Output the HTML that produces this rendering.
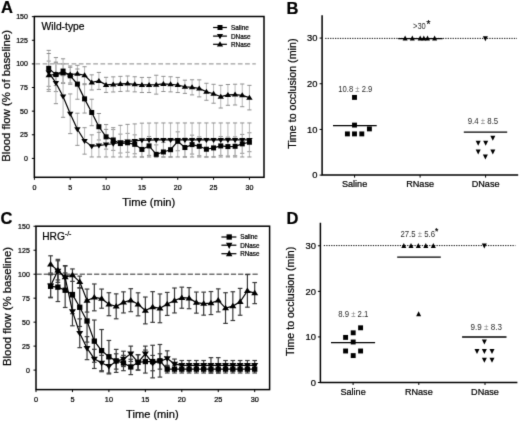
<!DOCTYPE html>
<html><head><meta charset="utf-8"><style>
html,body{margin:0;padding:0;background:#fff;width:520px;height:422px;overflow:hidden}
svg{display:block;will-change:transform}
text{font-family:"Liberation Sans", sans-serif;stroke:#000;stroke-width:0.22px}
</style></head><body>
<svg width="520" height="422" viewBox="0 0 520 422">
<defs><filter id="bl" x="0" y="0" width="1" height="1" color-interpolation-filters="sRGB"><feConvolveMatrix order="3" kernelMatrix="0.0114 0.0841 0.0114 0.0841 0.618 0.0841 0.0114 0.0841 0.0114" edgeMode="duplicate"/></filter></defs>
<rect width="520" height="422" fill="#fff"/>
<g filter="url(#bl)"><rect width="520" height="422" fill="#fff"/>
<line x1="35.4" y1="63.9" x2="255.8" y2="63.9" stroke="#a0a0a0" stroke-width="1.3" stroke-dasharray="4.7 2.53"/>
<line x1="48.73" y1="61.07" x2="48.73" y2="89.42" stroke="#b4b4b4" stroke-width="0.95" />
<line x1="46.63" y1="61.07" x2="50.83" y2="61.07" stroke="#888" stroke-width="0.95" />
<line x1="46.63" y1="89.42" x2="50.83" y2="89.42" stroke="#888" stroke-width="0.95" />
<line x1="55.9" y1="62.96" x2="55.9" y2="85.64" stroke="#b4b4b4" stroke-width="0.95" />
<line x1="53.8" y1="62.96" x2="58" y2="62.96" stroke="#888" stroke-width="0.95" />
<line x1="53.8" y1="85.64" x2="58" y2="85.64" stroke="#888" stroke-width="0.95" />
<line x1="63.07" y1="63.9" x2="63.07" y2="82.8" stroke="#b4b4b4" stroke-width="0.95" />
<line x1="60.97" y1="63.9" x2="65.17" y2="63.9" stroke="#888" stroke-width="0.95" />
<line x1="60.97" y1="82.8" x2="65.17" y2="82.8" stroke="#888" stroke-width="0.95" />
<line x1="70.23" y1="65.98" x2="70.23" y2="82.99" stroke="#b4b4b4" stroke-width="0.95" />
<line x1="68.14" y1="65.98" x2="72.33" y2="65.98" stroke="#888" stroke-width="0.95" />
<line x1="68.14" y1="82.99" x2="72.33" y2="82.99" stroke="#888" stroke-width="0.95" />
<line x1="77.4" y1="65.32" x2="77.4" y2="82.33" stroke="#b4b4b4" stroke-width="0.95" />
<line x1="75.3" y1="65.32" x2="79.5" y2="65.32" stroke="#888" stroke-width="0.95" />
<line x1="75.3" y1="82.33" x2="79.5" y2="82.33" stroke="#888" stroke-width="0.95" />
<line x1="84.57" y1="66.74" x2="84.57" y2="83.75" stroke="#b4b4b4" stroke-width="0.95" />
<line x1="82.47" y1="66.74" x2="86.67" y2="66.74" stroke="#888" stroke-width="0.95" />
<line x1="82.47" y1="83.75" x2="86.67" y2="83.75" stroke="#888" stroke-width="0.95" />
<line x1="91.74" y1="74.86" x2="91.74" y2="89.98" stroke="#b4b4b4" stroke-width="0.95" />
<line x1="89.64" y1="74.86" x2="93.84" y2="74.86" stroke="#888" stroke-width="0.95" />
<line x1="89.64" y1="89.98" x2="93.84" y2="89.98" stroke="#888" stroke-width="0.95" />
<line x1="98.9" y1="72.41" x2="98.9" y2="89.42" stroke="#b4b4b4" stroke-width="0.95" />
<line x1="96.8" y1="72.41" x2="101" y2="72.41" stroke="#888" stroke-width="0.95" />
<line x1="96.8" y1="89.42" x2="101" y2="89.42" stroke="#888" stroke-width="0.95" />
<line x1="106.07" y1="77.32" x2="106.07" y2="92.44" stroke="#b4b4b4" stroke-width="0.95" />
<line x1="103.97" y1="77.32" x2="108.17" y2="77.32" stroke="#888" stroke-width="0.95" />
<line x1="103.97" y1="92.44" x2="108.17" y2="92.44" stroke="#888" stroke-width="0.95" />
<line x1="113.24" y1="76.85" x2="113.24" y2="91.97" stroke="#b4b4b4" stroke-width="0.95" />
<line x1="111.14" y1="76.85" x2="115.34" y2="76.85" stroke="#888" stroke-width="0.95" />
<line x1="111.14" y1="91.97" x2="115.34" y2="91.97" stroke="#888" stroke-width="0.95" />
<line x1="120.4" y1="76.37" x2="120.4" y2="91.49" stroke="#b4b4b4" stroke-width="0.95" />
<line x1="118.3" y1="76.37" x2="122.5" y2="76.37" stroke="#888" stroke-width="0.95" />
<line x1="118.3" y1="91.49" x2="122.5" y2="91.49" stroke="#888" stroke-width="0.95" />
<line x1="127.57" y1="76" x2="127.57" y2="91.12" stroke="#b4b4b4" stroke-width="0.95" />
<line x1="125.47" y1="76" x2="129.67" y2="76" stroke="#888" stroke-width="0.95" />
<line x1="125.47" y1="91.12" x2="129.67" y2="91.12" stroke="#888" stroke-width="0.95" />
<line x1="134.74" y1="76.75" x2="134.74" y2="91.87" stroke="#b4b4b4" stroke-width="0.95" />
<line x1="132.64" y1="76.75" x2="136.84" y2="76.75" stroke="#888" stroke-width="0.95" />
<line x1="132.64" y1="91.87" x2="136.84" y2="91.87" stroke="#888" stroke-width="0.95" />
<line x1="141.91" y1="77.41" x2="141.91" y2="92.53" stroke="#b4b4b4" stroke-width="0.95" />
<line x1="139.81" y1="77.41" x2="144" y2="77.41" stroke="#888" stroke-width="0.95" />
<line x1="139.81" y1="92.53" x2="144" y2="92.53" stroke="#888" stroke-width="0.95" />
<line x1="149.07" y1="77.41" x2="149.07" y2="92.53" stroke="#b4b4b4" stroke-width="0.95" />
<line x1="146.97" y1="77.41" x2="151.17" y2="77.41" stroke="#888" stroke-width="0.95" />
<line x1="146.97" y1="92.53" x2="151.17" y2="92.53" stroke="#888" stroke-width="0.95" />
<line x1="156.24" y1="75.24" x2="156.24" y2="94.14" stroke="#b4b4b4" stroke-width="0.95" />
<line x1="154.14" y1="75.24" x2="158.34" y2="75.24" stroke="#888" stroke-width="0.95" />
<line x1="154.14" y1="94.14" x2="158.34" y2="94.14" stroke="#888" stroke-width="0.95" />
<line x1="163.41" y1="76.37" x2="163.41" y2="91.49" stroke="#b4b4b4" stroke-width="0.95" />
<line x1="161.31" y1="76.37" x2="165.51" y2="76.37" stroke="#888" stroke-width="0.95" />
<line x1="161.31" y1="91.49" x2="165.51" y2="91.49" stroke="#888" stroke-width="0.95" />
<line x1="170.57" y1="76.75" x2="170.57" y2="91.87" stroke="#b4b4b4" stroke-width="0.95" />
<line x1="168.47" y1="76.75" x2="172.67" y2="76.75" stroke="#888" stroke-width="0.95" />
<line x1="168.47" y1="91.87" x2="172.67" y2="91.87" stroke="#888" stroke-width="0.95" />
<line x1="177.74" y1="77.41" x2="177.74" y2="92.53" stroke="#b4b4b4" stroke-width="0.95" />
<line x1="175.64" y1="77.41" x2="179.84" y2="77.41" stroke="#888" stroke-width="0.95" />
<line x1="175.64" y1="92.53" x2="179.84" y2="92.53" stroke="#888" stroke-width="0.95" />
<line x1="184.91" y1="80.15" x2="184.91" y2="93.38" stroke="#b4b4b4" stroke-width="0.95" />
<line x1="182.81" y1="80.15" x2="187.01" y2="80.15" stroke="#888" stroke-width="0.95" />
<line x1="182.81" y1="93.38" x2="187.01" y2="93.38" stroke="#888" stroke-width="0.95" />
<line x1="192.07" y1="79.78" x2="192.07" y2="94.9" stroke="#b4b4b4" stroke-width="0.95" />
<line x1="189.97" y1="79.78" x2="194.17" y2="79.78" stroke="#888" stroke-width="0.95" />
<line x1="189.97" y1="94.9" x2="194.17" y2="94.9" stroke="#888" stroke-width="0.95" />
<line x1="199.24" y1="79.87" x2="199.24" y2="96.88" stroke="#b4b4b4" stroke-width="0.95" />
<line x1="197.14" y1="79.87" x2="201.34" y2="79.87" stroke="#888" stroke-width="0.95" />
<line x1="197.14" y1="96.88" x2="201.34" y2="96.88" stroke="#888" stroke-width="0.95" />
<line x1="206.41" y1="83.27" x2="206.41" y2="100.28" stroke="#b4b4b4" stroke-width="0.95" />
<line x1="204.31" y1="83.27" x2="208.51" y2="83.27" stroke="#888" stroke-width="0.95" />
<line x1="204.31" y1="100.28" x2="208.51" y2="100.28" stroke="#888" stroke-width="0.95" />
<line x1="213.57" y1="84.31" x2="213.57" y2="103.21" stroke="#b4b4b4" stroke-width="0.95" />
<line x1="211.47" y1="84.31" x2="215.67" y2="84.31" stroke="#888" stroke-width="0.95" />
<line x1="211.47" y1="103.21" x2="215.67" y2="103.21" stroke="#888" stroke-width="0.95" />
<line x1="220.74" y1="85.35" x2="220.74" y2="108.03" stroke="#b4b4b4" stroke-width="0.95" />
<line x1="218.64" y1="85.35" x2="222.84" y2="85.35" stroke="#888" stroke-width="0.95" />
<line x1="218.64" y1="108.03" x2="222.84" y2="108.03" stroke="#888" stroke-width="0.95" />
<line x1="227.91" y1="84.5" x2="227.91" y2="105.29" stroke="#b4b4b4" stroke-width="0.95" />
<line x1="225.81" y1="84.5" x2="230.01" y2="84.5" stroke="#888" stroke-width="0.95" />
<line x1="225.81" y1="105.29" x2="230.01" y2="105.29" stroke="#888" stroke-width="0.95" />
<line x1="235.08" y1="84.22" x2="235.08" y2="105.01" stroke="#b4b4b4" stroke-width="0.95" />
<line x1="232.98" y1="84.22" x2="237.18" y2="84.22" stroke="#888" stroke-width="0.95" />
<line x1="232.98" y1="105.01" x2="237.18" y2="105.01" stroke="#888" stroke-width="0.95" />
<line x1="242.24" y1="84.03" x2="242.24" y2="106.71" stroke="#b4b4b4" stroke-width="0.95" />
<line x1="240.14" y1="84.03" x2="244.34" y2="84.03" stroke="#888" stroke-width="0.95" />
<line x1="240.14" y1="106.71" x2="244.34" y2="106.71" stroke="#888" stroke-width="0.95" />
<line x1="249.41" y1="85.35" x2="249.41" y2="109.92" stroke="#b4b4b4" stroke-width="0.95" />
<line x1="247.31" y1="85.35" x2="251.51" y2="85.35" stroke="#888" stroke-width="0.95" />
<line x1="247.31" y1="109.92" x2="251.51" y2="109.92" stroke="#888" stroke-width="0.95" />
<line x1="48.73" y1="50.39" x2="48.73" y2="86.3" stroke="#b4b4b4" stroke-width="0.95" />
<line x1="46.63" y1="50.39" x2="50.83" y2="50.39" stroke="#888" stroke-width="0.95" />
<line x1="46.63" y1="86.3" x2="50.83" y2="86.3" stroke="#888" stroke-width="0.95" />
<line x1="55.9" y1="57.57" x2="55.9" y2="91.59" stroke="#b4b4b4" stroke-width="0.95" />
<line x1="53.8" y1="57.57" x2="58" y2="57.57" stroke="#888" stroke-width="0.95" />
<line x1="53.8" y1="91.59" x2="58" y2="91.59" stroke="#888" stroke-width="0.95" />
<line x1="63.07" y1="58.8" x2="63.07" y2="83.37" stroke="#b4b4b4" stroke-width="0.95" />
<line x1="60.97" y1="58.8" x2="65.17" y2="58.8" stroke="#888" stroke-width="0.95" />
<line x1="60.97" y1="83.37" x2="65.17" y2="83.37" stroke="#888" stroke-width="0.95" />
<line x1="70.23" y1="67.3" x2="70.23" y2="84.31" stroke="#b4b4b4" stroke-width="0.95" />
<line x1="68.14" y1="67.3" x2="72.33" y2="67.3" stroke="#888" stroke-width="0.95" />
<line x1="68.14" y1="84.31" x2="72.33" y2="84.31" stroke="#888" stroke-width="0.95" />
<line x1="77.4" y1="69" x2="77.4" y2="99.24" stroke="#b4b4b4" stroke-width="0.95" />
<line x1="75.3" y1="69" x2="79.5" y2="69" stroke="#888" stroke-width="0.95" />
<line x1="75.3" y1="99.24" x2="79.5" y2="99.24" stroke="#888" stroke-width="0.95" />
<line x1="84.57" y1="84.69" x2="84.57" y2="113.04" stroke="#b4b4b4" stroke-width="0.95" />
<line x1="82.47" y1="84.69" x2="86.67" y2="84.69" stroke="#888" stroke-width="0.95" />
<line x1="82.47" y1="113.04" x2="86.67" y2="113.04" stroke="#888" stroke-width="0.95" />
<line x1="91.74" y1="99.24" x2="91.74" y2="125.7" stroke="#b4b4b4" stroke-width="0.95" />
<line x1="89.64" y1="99.24" x2="93.84" y2="99.24" stroke="#888" stroke-width="0.95" />
<line x1="89.64" y1="125.7" x2="93.84" y2="125.7" stroke="#888" stroke-width="0.95" />
<line x1="98.9" y1="113.51" x2="98.9" y2="139.97" stroke="#b4b4b4" stroke-width="0.95" />
<line x1="96.8" y1="113.51" x2="101" y2="113.51" stroke="#888" stroke-width="0.95" />
<line x1="96.8" y1="139.97" x2="101" y2="139.97" stroke="#888" stroke-width="0.95" />
<line x1="106.07" y1="124.57" x2="106.07" y2="149.14" stroke="#b4b4b4" stroke-width="0.95" />
<line x1="103.97" y1="124.57" x2="108.17" y2="124.57" stroke="#888" stroke-width="0.95" />
<line x1="103.97" y1="149.14" x2="108.17" y2="149.14" stroke="#888" stroke-width="0.95" />
<line x1="113.24" y1="129.58" x2="113.24" y2="150.37" stroke="#b4b4b4" stroke-width="0.95" />
<line x1="111.14" y1="129.58" x2="115.34" y2="129.58" stroke="#888" stroke-width="0.95" />
<line x1="111.14" y1="150.37" x2="115.34" y2="150.37" stroke="#888" stroke-width="0.95" />
<line x1="120.4" y1="134.11" x2="120.4" y2="153.01" stroke="#b4b4b4" stroke-width="0.95" />
<line x1="118.3" y1="134.11" x2="122.5" y2="134.11" stroke="#888" stroke-width="0.95" />
<line x1="118.3" y1="153.01" x2="122.5" y2="153.01" stroke="#888" stroke-width="0.95" />
<line x1="127.57" y1="133.36" x2="127.57" y2="152.26" stroke="#b4b4b4" stroke-width="0.95" />
<line x1="125.47" y1="133.36" x2="129.67" y2="133.36" stroke="#888" stroke-width="0.95" />
<line x1="125.47" y1="152.26" x2="129.67" y2="152.26" stroke="#888" stroke-width="0.95" />
<line x1="134.74" y1="134.87" x2="134.74" y2="153.77" stroke="#b4b4b4" stroke-width="0.95" />
<line x1="132.64" y1="134.87" x2="136.84" y2="134.87" stroke="#888" stroke-width="0.95" />
<line x1="132.64" y1="153.77" x2="136.84" y2="153.77" stroke="#888" stroke-width="0.95" />
<line x1="141.91" y1="139.97" x2="141.91" y2="156.98" stroke="#b4b4b4" stroke-width="0.95" />
<line x1="139.81" y1="139.97" x2="144" y2="139.97" stroke="#888" stroke-width="0.95" />
<line x1="139.81" y1="156.98" x2="144" y2="156.98" stroke="#888" stroke-width="0.95" />
<line x1="149.07" y1="136.48" x2="149.07" y2="155.38" stroke="#b4b4b4" stroke-width="0.95" />
<line x1="146.97" y1="136.48" x2="151.17" y2="136.48" stroke="#888" stroke-width="0.95" />
<line x1="146.97" y1="155.38" x2="151.17" y2="155.38" stroke="#888" stroke-width="0.95" />
<line x1="156.24" y1="144.89" x2="156.24" y2="156.98" stroke="#b4b4b4" stroke-width="0.95" />
<line x1="154.14" y1="144.89" x2="158.34" y2="144.89" stroke="#888" stroke-width="0.95" />
<line x1="154.14" y1="156.98" x2="158.34" y2="156.98" stroke="#888" stroke-width="0.95" />
<line x1="163.41" y1="142.52" x2="163.41" y2="156.98" stroke="#b4b4b4" stroke-width="0.95" />
<line x1="161.31" y1="142.52" x2="165.51" y2="142.52" stroke="#888" stroke-width="0.95" />
<line x1="161.31" y1="156.98" x2="165.51" y2="156.98" stroke="#888" stroke-width="0.95" />
<line x1="170.57" y1="140.26" x2="170.57" y2="156.98" stroke="#b4b4b4" stroke-width="0.95" />
<line x1="168.47" y1="140.26" x2="172.67" y2="140.26" stroke="#888" stroke-width="0.95" />
<line x1="168.47" y1="156.98" x2="172.67" y2="156.98" stroke="#888" stroke-width="0.95" />
<line x1="177.74" y1="131.85" x2="177.74" y2="150.75" stroke="#b4b4b4" stroke-width="0.95" />
<line x1="175.64" y1="131.85" x2="179.84" y2="131.85" stroke="#888" stroke-width="0.95" />
<line x1="175.64" y1="150.75" x2="179.84" y2="150.75" stroke="#888" stroke-width="0.95" />
<line x1="184.91" y1="138.08" x2="184.91" y2="156.98" stroke="#b4b4b4" stroke-width="0.95" />
<line x1="182.81" y1="138.08" x2="187.01" y2="138.08" stroke="#888" stroke-width="0.95" />
<line x1="182.81" y1="156.98" x2="187.01" y2="156.98" stroke="#888" stroke-width="0.95" />
<line x1="192.07" y1="135.15" x2="192.07" y2="154.05" stroke="#b4b4b4" stroke-width="0.95" />
<line x1="189.97" y1="135.15" x2="194.17" y2="135.15" stroke="#888" stroke-width="0.95" />
<line x1="189.97" y1="154.05" x2="194.17" y2="154.05" stroke="#888" stroke-width="0.95" />
<line x1="199.24" y1="136.85" x2="199.24" y2="155.75" stroke="#b4b4b4" stroke-width="0.95" />
<line x1="197.14" y1="136.85" x2="201.34" y2="136.85" stroke="#888" stroke-width="0.95" />
<line x1="197.14" y1="155.75" x2="201.34" y2="155.75" stroke="#888" stroke-width="0.95" />
<line x1="206.41" y1="139.78" x2="206.41" y2="156.98" stroke="#b4b4b4" stroke-width="0.95" />
<line x1="204.31" y1="139.78" x2="208.51" y2="139.78" stroke="#888" stroke-width="0.95" />
<line x1="204.31" y1="156.98" x2="208.51" y2="156.98" stroke="#888" stroke-width="0.95" />
<line x1="213.57" y1="138.46" x2="213.57" y2="156.98" stroke="#b4b4b4" stroke-width="0.95" />
<line x1="211.47" y1="138.46" x2="215.67" y2="138.46" stroke="#888" stroke-width="0.95" />
<line x1="211.47" y1="156.98" x2="215.67" y2="156.98" stroke="#888" stroke-width="0.95" />
<line x1="220.74" y1="136.48" x2="220.74" y2="155.38" stroke="#b4b4b4" stroke-width="0.95" />
<line x1="218.64" y1="136.48" x2="222.84" y2="136.48" stroke="#888" stroke-width="0.95" />
<line x1="218.64" y1="155.38" x2="222.84" y2="155.38" stroke="#888" stroke-width="0.95" />
<line x1="227.91" y1="137.14" x2="227.91" y2="156.04" stroke="#b4b4b4" stroke-width="0.95" />
<line x1="225.81" y1="137.14" x2="230.01" y2="137.14" stroke="#888" stroke-width="0.95" />
<line x1="225.81" y1="156.04" x2="230.01" y2="156.04" stroke="#888" stroke-width="0.95" />
<line x1="235.08" y1="136.85" x2="235.08" y2="155.75" stroke="#b4b4b4" stroke-width="0.95" />
<line x1="232.98" y1="136.85" x2="237.18" y2="136.85" stroke="#888" stroke-width="0.95" />
<line x1="232.98" y1="155.75" x2="237.18" y2="155.75" stroke="#888" stroke-width="0.95" />
<line x1="242.24" y1="134.4" x2="242.24" y2="153.3" stroke="#b4b4b4" stroke-width="0.95" />
<line x1="240.14" y1="134.4" x2="244.34" y2="134.4" stroke="#888" stroke-width="0.95" />
<line x1="240.14" y1="153.3" x2="244.34" y2="153.3" stroke="#888" stroke-width="0.95" />
<line x1="249.41" y1="132.79" x2="249.41" y2="151.69" stroke="#b4b4b4" stroke-width="0.95" />
<line x1="247.31" y1="132.79" x2="251.51" y2="132.79" stroke="#888" stroke-width="0.95" />
<line x1="247.31" y1="151.69" x2="251.51" y2="151.69" stroke="#888" stroke-width="0.95" />
<line x1="48.73" y1="53.51" x2="48.73" y2="91.31" stroke="#b4b4b4" stroke-width="0.95" />
<line x1="46.63" y1="53.51" x2="50.83" y2="53.51" stroke="#888" stroke-width="0.95" />
<line x1="46.63" y1="91.31" x2="50.83" y2="91.31" stroke="#888" stroke-width="0.95" />
<line x1="55.9" y1="62.1" x2="55.9" y2="103.68" stroke="#b4b4b4" stroke-width="0.95" />
<line x1="53.8" y1="62.1" x2="58" y2="62.1" stroke="#888" stroke-width="0.95" />
<line x1="53.8" y1="103.68" x2="58" y2="103.68" stroke="#888" stroke-width="0.95" />
<line x1="63.07" y1="75.71" x2="63.07" y2="117.29" stroke="#b4b4b4" stroke-width="0.95" />
<line x1="60.97" y1="75.71" x2="65.17" y2="75.71" stroke="#888" stroke-width="0.95" />
<line x1="60.97" y1="117.29" x2="65.17" y2="117.29" stroke="#888" stroke-width="0.95" />
<line x1="70.23" y1="93.95" x2="70.23" y2="133.64" stroke="#b4b4b4" stroke-width="0.95" />
<line x1="68.14" y1="93.95" x2="72.33" y2="93.95" stroke="#888" stroke-width="0.95" />
<line x1="68.14" y1="133.64" x2="72.33" y2="133.64" stroke="#888" stroke-width="0.95" />
<line x1="77.4" y1="113.23" x2="77.4" y2="145.36" stroke="#b4b4b4" stroke-width="0.95" />
<line x1="75.3" y1="113.23" x2="79.5" y2="113.23" stroke="#888" stroke-width="0.95" />
<line x1="75.3" y1="145.36" x2="79.5" y2="145.36" stroke="#888" stroke-width="0.95" />
<line x1="84.57" y1="127.69" x2="84.57" y2="154.15" stroke="#b4b4b4" stroke-width="0.95" />
<line x1="82.47" y1="127.69" x2="86.67" y2="127.69" stroke="#888" stroke-width="0.95" />
<line x1="82.47" y1="154.15" x2="86.67" y2="154.15" stroke="#888" stroke-width="0.95" />
<line x1="91.74" y1="134.87" x2="91.74" y2="156.98" stroke="#b4b4b4" stroke-width="0.95" />
<line x1="89.64" y1="134.87" x2="93.84" y2="134.87" stroke="#888" stroke-width="0.95" />
<line x1="89.64" y1="156.98" x2="93.84" y2="156.98" stroke="#888" stroke-width="0.95" />
<line x1="98.9" y1="132.32" x2="98.9" y2="156.98" stroke="#b4b4b4" stroke-width="0.95" />
<line x1="96.8" y1="132.32" x2="101" y2="132.32" stroke="#888" stroke-width="0.95" />
<line x1="96.8" y1="156.98" x2="101" y2="156.98" stroke="#888" stroke-width="0.95" />
<line x1="106.07" y1="129.39" x2="106.07" y2="156.98" stroke="#b4b4b4" stroke-width="0.95" />
<line x1="103.97" y1="129.39" x2="108.17" y2="129.39" stroke="#888" stroke-width="0.95" />
<line x1="103.97" y1="156.98" x2="108.17" y2="156.98" stroke="#888" stroke-width="0.95" />
<line x1="113.24" y1="127.69" x2="113.24" y2="156.98" stroke="#b4b4b4" stroke-width="0.95" />
<line x1="111.14" y1="127.69" x2="115.34" y2="127.69" stroke="#888" stroke-width="0.95" />
<line x1="111.14" y1="156.98" x2="115.34" y2="156.98" stroke="#888" stroke-width="0.95" />
<line x1="120.4" y1="125.33" x2="120.4" y2="156.98" stroke="#b4b4b4" stroke-width="0.95" />
<line x1="118.3" y1="125.33" x2="122.5" y2="125.33" stroke="#888" stroke-width="0.95" />
<line x1="118.3" y1="156.98" x2="122.5" y2="156.98" stroke="#888" stroke-width="0.95" />
<line x1="127.57" y1="124.38" x2="127.57" y2="156.98" stroke="#b4b4b4" stroke-width="0.95" />
<line x1="125.47" y1="124.38" x2="129.67" y2="124.38" stroke="#888" stroke-width="0.95" />
<line x1="125.47" y1="156.98" x2="129.67" y2="156.98" stroke="#888" stroke-width="0.95" />
<line x1="134.74" y1="123.91" x2="134.74" y2="156.98" stroke="#b4b4b4" stroke-width="0.95" />
<line x1="132.64" y1="123.91" x2="136.84" y2="123.91" stroke="#888" stroke-width="0.95" />
<line x1="132.64" y1="156.98" x2="136.84" y2="156.98" stroke="#888" stroke-width="0.95" />
<line x1="141.91" y1="123.15" x2="141.91" y2="156.98" stroke="#b4b4b4" stroke-width="0.95" />
<line x1="139.81" y1="123.15" x2="144" y2="123.15" stroke="#888" stroke-width="0.95" />
<line x1="139.81" y1="156.98" x2="144" y2="156.98" stroke="#888" stroke-width="0.95" />
<line x1="149.07" y1="123.06" x2="149.07" y2="156.98" stroke="#b4b4b4" stroke-width="0.95" />
<line x1="146.97" y1="123.06" x2="151.17" y2="123.06" stroke="#888" stroke-width="0.95" />
<line x1="146.97" y1="156.98" x2="151.17" y2="156.98" stroke="#888" stroke-width="0.95" />
<line x1="156.24" y1="122.96" x2="156.24" y2="156.98" stroke="#b4b4b4" stroke-width="0.95" />
<line x1="154.14" y1="122.96" x2="158.34" y2="122.96" stroke="#888" stroke-width="0.95" />
<line x1="154.14" y1="156.98" x2="158.34" y2="156.98" stroke="#888" stroke-width="0.95" />
<line x1="163.41" y1="122.96" x2="163.41" y2="156.98" stroke="#b4b4b4" stroke-width="0.95" />
<line x1="161.31" y1="122.96" x2="165.51" y2="122.96" stroke="#888" stroke-width="0.95" />
<line x1="161.31" y1="156.98" x2="165.51" y2="156.98" stroke="#888" stroke-width="0.95" />
<line x1="170.57" y1="122.96" x2="170.57" y2="156.98" stroke="#b4b4b4" stroke-width="0.95" />
<line x1="168.47" y1="122.96" x2="172.67" y2="122.96" stroke="#888" stroke-width="0.95" />
<line x1="168.47" y1="156.98" x2="172.67" y2="156.98" stroke="#888" stroke-width="0.95" />
<line x1="177.74" y1="122.96" x2="177.74" y2="156.98" stroke="#b4b4b4" stroke-width="0.95" />
<line x1="175.64" y1="122.96" x2="179.84" y2="122.96" stroke="#888" stroke-width="0.95" />
<line x1="175.64" y1="156.98" x2="179.84" y2="156.98" stroke="#888" stroke-width="0.95" />
<line x1="184.91" y1="122.96" x2="184.91" y2="156.98" stroke="#b4b4b4" stroke-width="0.95" />
<line x1="182.81" y1="122.96" x2="187.01" y2="122.96" stroke="#888" stroke-width="0.95" />
<line x1="182.81" y1="156.98" x2="187.01" y2="156.98" stroke="#888" stroke-width="0.95" />
<line x1="192.07" y1="122.96" x2="192.07" y2="156.98" stroke="#b4b4b4" stroke-width="0.95" />
<line x1="189.97" y1="122.96" x2="194.17" y2="122.96" stroke="#888" stroke-width="0.95" />
<line x1="189.97" y1="156.98" x2="194.17" y2="156.98" stroke="#888" stroke-width="0.95" />
<line x1="199.24" y1="122.96" x2="199.24" y2="156.98" stroke="#b4b4b4" stroke-width="0.95" />
<line x1="197.14" y1="122.96" x2="201.34" y2="122.96" stroke="#888" stroke-width="0.95" />
<line x1="197.14" y1="156.98" x2="201.34" y2="156.98" stroke="#888" stroke-width="0.95" />
<line x1="206.41" y1="122.96" x2="206.41" y2="156.98" stroke="#b4b4b4" stroke-width="0.95" />
<line x1="204.31" y1="122.96" x2="208.51" y2="122.96" stroke="#888" stroke-width="0.95" />
<line x1="204.31" y1="156.98" x2="208.51" y2="156.98" stroke="#888" stroke-width="0.95" />
<line x1="213.57" y1="122.96" x2="213.57" y2="156.98" stroke="#b4b4b4" stroke-width="0.95" />
<line x1="211.47" y1="122.96" x2="215.67" y2="122.96" stroke="#888" stroke-width="0.95" />
<line x1="211.47" y1="156.98" x2="215.67" y2="156.98" stroke="#888" stroke-width="0.95" />
<line x1="220.74" y1="122.96" x2="220.74" y2="156.98" stroke="#b4b4b4" stroke-width="0.95" />
<line x1="218.64" y1="122.96" x2="222.84" y2="122.96" stroke="#888" stroke-width="0.95" />
<line x1="218.64" y1="156.98" x2="222.84" y2="156.98" stroke="#888" stroke-width="0.95" />
<line x1="227.91" y1="122.96" x2="227.91" y2="156.98" stroke="#b4b4b4" stroke-width="0.95" />
<line x1="225.81" y1="122.96" x2="230.01" y2="122.96" stroke="#888" stroke-width="0.95" />
<line x1="225.81" y1="156.98" x2="230.01" y2="156.98" stroke="#888" stroke-width="0.95" />
<line x1="235.08" y1="122.96" x2="235.08" y2="156.98" stroke="#b4b4b4" stroke-width="0.95" />
<line x1="232.98" y1="122.96" x2="237.18" y2="122.96" stroke="#888" stroke-width="0.95" />
<line x1="232.98" y1="156.98" x2="237.18" y2="156.98" stroke="#888" stroke-width="0.95" />
<line x1="242.24" y1="122.96" x2="242.24" y2="156.98" stroke="#b4b4b4" stroke-width="0.95" />
<line x1="240.14" y1="122.96" x2="244.34" y2="122.96" stroke="#888" stroke-width="0.95" />
<line x1="240.14" y1="156.98" x2="244.34" y2="156.98" stroke="#888" stroke-width="0.95" />
<line x1="249.41" y1="122.96" x2="249.41" y2="156.98" stroke="#b4b4b4" stroke-width="0.95" />
<line x1="247.31" y1="122.96" x2="251.51" y2="122.96" stroke="#888" stroke-width="0.95" />
<line x1="247.31" y1="156.98" x2="251.51" y2="156.98" stroke="#888" stroke-width="0.95" />
<polyline points="48.73,75.24 55.9,74.3 63.07,73.35 70.23,74.48 77.4,73.82 84.57,75.24 91.74,82.42 98.9,80.91 106.07,84.88 113.24,84.41 120.4,83.93 127.57,83.56 134.74,84.31 141.91,84.97 149.07,84.97 156.24,84.69 163.41,83.93 170.57,84.31 177.74,84.97 184.91,86.77 192.07,87.34 199.24,88.38 206.41,91.78 213.57,93.76 220.74,96.69 227.91,94.9 235.08,94.61 242.24,95.37 249.41,97.64" fill="none" stroke="#000" stroke-width="1.2"/>
<path d="M48.73 72.24L51.93 77.24L45.53 77.24Z" fill="#000"/>
<path d="M55.9 71.3L59.1 76.3L52.7 76.3Z" fill="#000"/>
<path d="M63.07 70.35L66.27 75.35L59.87 75.35Z" fill="#000"/>
<path d="M70.23 71.48L73.44 76.48L67.03 76.48Z" fill="#000"/>
<path d="M77.4 70.82L80.6 75.82L74.2 75.82Z" fill="#000"/>
<path d="M84.57 72.24L87.77 77.24L81.37 77.24Z" fill="#000"/>
<path d="M91.74 79.42L94.94 84.42L88.54 84.42Z" fill="#000"/>
<path d="M98.9 77.91L102.1 82.91L95.7 82.91Z" fill="#000"/>
<path d="M106.07 81.88L109.27 86.88L102.87 86.88Z" fill="#000"/>
<path d="M113.24 81.41L116.44 86.41L110.04 86.41Z" fill="#000"/>
<path d="M120.4 80.93L123.6 85.93L117.2 85.93Z" fill="#000"/>
<path d="M127.57 80.56L130.77 85.56L124.37 85.56Z" fill="#000"/>
<path d="M134.74 81.31L137.94 86.31L131.54 86.31Z" fill="#000"/>
<path d="M141.91 81.97L145.1 86.97L138.71 86.97Z" fill="#000"/>
<path d="M149.07 81.97L152.27 86.97L145.87 86.97Z" fill="#000"/>
<path d="M156.24 81.69L159.44 86.69L153.04 86.69Z" fill="#000"/>
<path d="M163.41 80.93L166.61 85.93L160.21 85.93Z" fill="#000"/>
<path d="M170.57 81.31L173.77 86.31L167.37 86.31Z" fill="#000"/>
<path d="M177.74 81.97L180.94 86.97L174.54 86.97Z" fill="#000"/>
<path d="M184.91 83.77L188.11 88.77L181.71 88.77Z" fill="#000"/>
<path d="M192.07 84.34L195.27 89.34L188.87 89.34Z" fill="#000"/>
<path d="M199.24 85.38L202.44 90.38L196.04 90.38Z" fill="#000"/>
<path d="M206.41 88.78L209.61 93.78L203.21 93.78Z" fill="#000"/>
<path d="M213.57 90.76L216.77 95.76L210.38 95.76Z" fill="#000"/>
<path d="M220.74 93.69L223.94 98.69L217.54 98.69Z" fill="#000"/>
<path d="M227.91 91.9L231.11 96.9L224.71 96.9Z" fill="#000"/>
<path d="M235.08 91.61L238.28 96.61L231.88 96.61Z" fill="#000"/>
<path d="M242.24 92.37L245.44 97.37L239.04 97.37Z" fill="#000"/>
<path d="M249.41 94.64L252.61 99.64L246.21 99.64Z" fill="#000"/>
<polyline points="48.73,72.41 55.9,82.89 63.07,96.5 70.23,113.8 77.4,129.29 84.57,140.92 91.74,146.21 98.9,145.55 106.07,144.51 113.24,143.75 120.4,142.34 127.57,141.39 134.74,140.92 141.91,140.16 149.07,140.07 156.24,139.97 163.41,139.97 170.57,139.97 177.74,139.97 184.91,139.97 192.07,139.97 199.24,139.97 206.41,139.97 213.57,139.97 220.74,139.97 227.91,139.97 235.08,139.97 242.24,139.97 249.41,139.97" fill="none" stroke="#000" stroke-width="1.2"/>
<path d="M48.73 75.41L51.93 70.41L45.53 70.41Z" fill="#000"/>
<path d="M55.9 85.89L59.1 80.89L52.7 80.89Z" fill="#000"/>
<path d="M63.07 99.5L66.27 94.5L59.87 94.5Z" fill="#000"/>
<path d="M70.23 116.8L73.44 111.8L67.03 111.8Z" fill="#000"/>
<path d="M77.4 132.29L80.6 127.29L74.2 127.29Z" fill="#000"/>
<path d="M84.57 143.92L87.77 138.92L81.37 138.92Z" fill="#000"/>
<path d="M91.74 149.21L94.94 144.21L88.54 144.21Z" fill="#000"/>
<path d="M98.9 148.55L102.1 143.55L95.7 143.55Z" fill="#000"/>
<path d="M106.07 147.51L109.27 142.51L102.87 142.51Z" fill="#000"/>
<path d="M113.24 146.75L116.44 141.75L110.04 141.75Z" fill="#000"/>
<path d="M120.4 145.34L123.6 140.34L117.2 140.34Z" fill="#000"/>
<path d="M127.57 144.39L130.77 139.39L124.37 139.39Z" fill="#000"/>
<path d="M134.74 143.92L137.94 138.92L131.54 138.92Z" fill="#000"/>
<path d="M141.91 143.16L145.1 138.16L138.71 138.16Z" fill="#000"/>
<path d="M149.07 143.07L152.27 138.07L145.87 138.07Z" fill="#000"/>
<path d="M156.24 142.97L159.44 137.97L153.04 137.97Z" fill="#000"/>
<path d="M163.41 142.97L166.61 137.97L160.21 137.97Z" fill="#000"/>
<path d="M170.57 142.97L173.77 137.97L167.37 137.97Z" fill="#000"/>
<path d="M177.74 142.97L180.94 137.97L174.54 137.97Z" fill="#000"/>
<path d="M184.91 142.97L188.11 137.97L181.71 137.97Z" fill="#000"/>
<path d="M192.07 142.97L195.27 137.97L188.87 137.97Z" fill="#000"/>
<path d="M199.24 142.97L202.44 137.97L196.04 137.97Z" fill="#000"/>
<path d="M206.41 142.97L209.61 137.97L203.21 137.97Z" fill="#000"/>
<path d="M213.57 142.97L216.77 137.97L210.38 137.97Z" fill="#000"/>
<path d="M220.74 142.97L223.94 137.97L217.54 137.97Z" fill="#000"/>
<path d="M227.91 142.97L231.11 137.97L224.71 137.97Z" fill="#000"/>
<path d="M235.08 142.97L238.28 137.97L231.88 137.97Z" fill="#000"/>
<path d="M242.24 142.97L245.44 137.97L239.04 137.97Z" fill="#000"/>
<path d="M249.41 142.97L252.61 137.97L246.21 137.97Z" fill="#000"/>
<polyline points="48.73,68.34 55.9,74.58 63.07,71.08 70.23,75.81 77.4,84.12 84.57,98.87 91.74,112.47 98.9,126.74 106.07,136.85 113.24,139.97 120.4,143.56 127.57,142.81 134.74,144.32 141.91,149.42 149.07,145.93 156.24,154.34 163.41,151.97 170.57,149.71 177.74,141.3 184.91,147.53 192.07,144.6 199.24,146.3 206.41,149.23 213.57,147.91 220.74,145.93 227.91,146.59 235.08,146.3 242.24,143.85 249.41,142.24" fill="none" stroke="#000" stroke-width="1.2"/>
<rect x="46.23" y="65.84" width="5" height="5" fill="#000"/>
<rect x="53.4" y="72.08" width="5" height="5" fill="#000"/>
<rect x="60.57" y="68.58" width="5" height="5" fill="#000"/>
<rect x="67.73" y="73.31" width="5" height="5" fill="#000"/>
<rect x="74.9" y="81.62" width="5" height="5" fill="#000"/>
<rect x="82.07" y="96.37" width="5" height="5" fill="#000"/>
<rect x="89.24" y="109.97" width="5" height="5" fill="#000"/>
<rect x="96.4" y="124.24" width="5" height="5" fill="#000"/>
<rect x="103.57" y="134.35" width="5" height="5" fill="#000"/>
<rect x="110.74" y="137.47" width="5" height="5" fill="#000"/>
<rect x="117.9" y="141.06" width="5" height="5" fill="#000"/>
<rect x="125.07" y="140.31" width="5" height="5" fill="#000"/>
<rect x="132.24" y="141.82" width="5" height="5" fill="#000"/>
<rect x="139.41" y="146.92" width="5" height="5" fill="#000"/>
<rect x="146.57" y="143.43" width="5" height="5" fill="#000"/>
<rect x="153.74" y="151.84" width="5" height="5" fill="#000"/>
<rect x="160.91" y="149.47" width="5" height="5" fill="#000"/>
<rect x="168.07" y="147.21" width="5" height="5" fill="#000"/>
<rect x="175.24" y="138.8" width="5" height="5" fill="#000"/>
<rect x="182.41" y="145.03" width="5" height="5" fill="#000"/>
<rect x="189.57" y="142.1" width="5" height="5" fill="#000"/>
<rect x="196.74" y="143.8" width="5" height="5" fill="#000"/>
<rect x="203.91" y="146.73" width="5" height="5" fill="#000"/>
<rect x="211.07" y="145.41" width="5" height="5" fill="#000"/>
<rect x="218.24" y="143.43" width="5" height="5" fill="#000"/>
<rect x="225.41" y="144.09" width="5" height="5" fill="#000"/>
<rect x="232.58" y="143.8" width="5" height="5" fill="#000"/>
<rect x="239.74" y="141.35" width="5" height="5" fill="#000"/>
<rect x="246.91" y="139.74" width="5" height="5" fill="#000"/>
<rect x="34.35" y="16.5" width="229.65" height="160.8" fill="none" stroke="#000" stroke-width="1.5"/>
<line x1="31.85" y1="158.4" x2="34.35" y2="158.4" stroke="#000" stroke-width="1" />
<text x="27.9" y="160.92" font-size="7" text-anchor="end" font-weight="normal" fill="#000" >0</text>
<line x1="31.85" y1="134.78" x2="34.35" y2="134.78" stroke="#000" stroke-width="1" />
<text x="27.9" y="137.3" font-size="7" text-anchor="end" font-weight="normal" fill="#000" >25</text>
<line x1="31.85" y1="111.15" x2="34.35" y2="111.15" stroke="#000" stroke-width="1" />
<text x="27.9" y="113.67" font-size="7" text-anchor="end" font-weight="normal" fill="#000" >50</text>
<line x1="31.85" y1="87.53" x2="34.35" y2="87.53" stroke="#000" stroke-width="1" />
<text x="27.9" y="90.05" font-size="7" text-anchor="end" font-weight="normal" fill="#000" >75</text>
<line x1="31.85" y1="63.9" x2="34.35" y2="63.9" stroke="#000" stroke-width="1" />
<text x="27.9" y="66.42" font-size="7" text-anchor="end" font-weight="normal" fill="#000" >100</text>
<line x1="31.85" y1="40.28" x2="34.35" y2="40.28" stroke="#000" stroke-width="1" />
<text x="27.9" y="42.8" font-size="7" text-anchor="end" font-weight="normal" fill="#000" >125</text>
<line x1="31.85" y1="16.65" x2="34.35" y2="16.65" stroke="#000" stroke-width="1" />
<text x="27.9" y="19.17" font-size="7" text-anchor="end" font-weight="normal" fill="#000" >150</text>
<line x1="34.4" y1="177.3" x2="34.4" y2="179.8" stroke="#000" stroke-width="1" />
<text x="34.4" y="189.7" font-size="7.1" text-anchor="middle" font-weight="normal" fill="#000" >0</text>
<line x1="70.23" y1="177.3" x2="70.23" y2="179.8" stroke="#000" stroke-width="1" />
<text x="70.23" y="189.7" font-size="7.1" text-anchor="middle" font-weight="normal" fill="#000" >5</text>
<line x1="106.07" y1="177.3" x2="106.07" y2="179.8" stroke="#000" stroke-width="1" />
<text x="106.07" y="189.7" font-size="7.1" text-anchor="middle" font-weight="normal" fill="#000" >10</text>
<line x1="141.91" y1="177.3" x2="141.91" y2="179.8" stroke="#000" stroke-width="1" />
<text x="141.91" y="189.7" font-size="7.1" text-anchor="middle" font-weight="normal" fill="#000" >15</text>
<line x1="177.74" y1="177.3" x2="177.74" y2="179.8" stroke="#000" stroke-width="1" />
<text x="177.74" y="189.7" font-size="7.1" text-anchor="middle" font-weight="normal" fill="#000" >20</text>
<line x1="213.57" y1="177.3" x2="213.57" y2="179.8" stroke="#000" stroke-width="1" />
<text x="213.57" y="189.7" font-size="7.1" text-anchor="middle" font-weight="normal" fill="#000" >25</text>
<line x1="249.41" y1="177.3" x2="249.41" y2="179.8" stroke="#000" stroke-width="1" />
<text x="249.41" y="189.7" font-size="7.1" text-anchor="middle" font-weight="normal" fill="#000" >30</text>
<line x1="213.1" y1="27.5" x2="226.9" y2="27.5" stroke="#000" stroke-width="1.2" />
<rect x="217.5" y="25" width="5" height="5" fill="#000"/>
<text x="231" y="30.1" font-size="6.4" text-anchor="start" font-weight="normal" fill="#000" >Saline</text>
<line x1="213.1" y1="36.1" x2="226.9" y2="36.1" stroke="#000" stroke-width="1.2" />
<path d="M220 39.22L223.1 34.02L216.9 34.02Z" fill="#000"/>
<text x="231" y="38.9" font-size="6.4" text-anchor="start" font-weight="normal" fill="#000" >DNase</text>
<line x1="213.1" y1="44.3" x2="226.9" y2="44.3" stroke="#000" stroke-width="1.2" />
<path d="M220 41.18L223.1 46.38L216.9 46.38Z" fill="#000"/>
<text x="231" y="47.2" font-size="6.4" text-anchor="start" font-weight="normal" fill="#000" >RNase</text>
<line x1="36.5" y1="274.2" x2="258.6" y2="274.2" stroke="#707070" stroke-width="1.4" stroke-dasharray="5.2 2"/>
<line x1="50.58" y1="255.79" x2="50.58" y2="273.05" stroke="#3a3a3a" stroke-width="1.2" />
<line x1="48.28" y1="255.79" x2="52.88" y2="255.79" stroke="#3a3a3a" stroke-width="1.2" />
<line x1="48.28" y1="273.05" x2="52.88" y2="273.05" stroke="#3a3a3a" stroke-width="1.2" />
<line x1="57.87" y1="260.77" x2="57.87" y2="279.95" stroke="#3a3a3a" stroke-width="1.2" />
<line x1="55.57" y1="260.77" x2="60.17" y2="260.77" stroke="#3a3a3a" stroke-width="1.2" />
<line x1="55.57" y1="279.95" x2="60.17" y2="279.95" stroke="#3a3a3a" stroke-width="1.2" />
<line x1="65.16" y1="265.57" x2="65.16" y2="288.59" stroke="#3a3a3a" stroke-width="1.2" />
<line x1="62.86" y1="265.57" x2="67.46" y2="265.57" stroke="#3a3a3a" stroke-width="1.2" />
<line x1="62.86" y1="288.59" x2="67.46" y2="288.59" stroke="#3a3a3a" stroke-width="1.2" />
<line x1="72.45" y1="268.93" x2="72.45" y2="281.39" stroke="#3a3a3a" stroke-width="1.2" />
<line x1="70.15" y1="268.93" x2="74.75" y2="268.93" stroke="#3a3a3a" stroke-width="1.2" />
<line x1="70.15" y1="281.39" x2="74.75" y2="281.39" stroke="#3a3a3a" stroke-width="1.2" />
<line x1="79.74" y1="276.12" x2="79.74" y2="287.63" stroke="#3a3a3a" stroke-width="1.2" />
<line x1="77.44" y1="276.12" x2="82.04" y2="276.12" stroke="#3a3a3a" stroke-width="1.2" />
<line x1="77.44" y1="287.63" x2="82.04" y2="287.63" stroke="#3a3a3a" stroke-width="1.2" />
<line x1="87.03" y1="289.06" x2="87.03" y2="312.08" stroke="#3a3a3a" stroke-width="1.2" />
<line x1="84.73" y1="289.06" x2="89.33" y2="289.06" stroke="#3a3a3a" stroke-width="1.2" />
<line x1="84.73" y1="312.08" x2="89.33" y2="312.08" stroke="#3a3a3a" stroke-width="1.2" />
<line x1="94.32" y1="283.98" x2="94.32" y2="310.83" stroke="#3a3a3a" stroke-width="1.2" />
<line x1="92.02" y1="283.98" x2="96.62" y2="283.98" stroke="#3a3a3a" stroke-width="1.2" />
<line x1="92.02" y1="310.83" x2="96.62" y2="310.83" stroke="#3a3a3a" stroke-width="1.2" />
<line x1="101.61" y1="289.06" x2="101.61" y2="308.24" stroke="#3a3a3a" stroke-width="1.2" />
<line x1="99.31" y1="289.06" x2="103.91" y2="289.06" stroke="#3a3a3a" stroke-width="1.2" />
<line x1="99.31" y1="308.24" x2="103.91" y2="308.24" stroke="#3a3a3a" stroke-width="1.2" />
<line x1="108.9" y1="292.71" x2="108.9" y2="315.72" stroke="#3a3a3a" stroke-width="1.2" />
<line x1="106.6" y1="292.71" x2="111.2" y2="292.71" stroke="#3a3a3a" stroke-width="1.2" />
<line x1="106.6" y1="315.72" x2="111.2" y2="315.72" stroke="#3a3a3a" stroke-width="1.2" />
<line x1="116.19" y1="293.86" x2="116.19" y2="318.79" stroke="#3a3a3a" stroke-width="1.2" />
<line x1="113.89" y1="293.86" x2="118.49" y2="293.86" stroke="#3a3a3a" stroke-width="1.2" />
<line x1="113.89" y1="318.79" x2="118.49" y2="318.79" stroke="#3a3a3a" stroke-width="1.2" />
<line x1="123.48" y1="291.85" x2="123.48" y2="312.94" stroke="#3a3a3a" stroke-width="1.2" />
<line x1="121.18" y1="291.85" x2="125.78" y2="291.85" stroke="#3a3a3a" stroke-width="1.2" />
<line x1="121.18" y1="312.94" x2="125.78" y2="312.94" stroke="#3a3a3a" stroke-width="1.2" />
<line x1="130.77" y1="288.68" x2="130.77" y2="311.7" stroke="#3a3a3a" stroke-width="1.2" />
<line x1="128.47" y1="288.68" x2="133.07" y2="288.68" stroke="#3a3a3a" stroke-width="1.2" />
<line x1="128.47" y1="311.7" x2="133.07" y2="311.7" stroke="#3a3a3a" stroke-width="1.2" />
<line x1="138.06" y1="292.8" x2="138.06" y2="315.82" stroke="#3a3a3a" stroke-width="1.2" />
<line x1="135.76" y1="292.8" x2="140.36" y2="292.8" stroke="#3a3a3a" stroke-width="1.2" />
<line x1="135.76" y1="315.82" x2="140.36" y2="315.82" stroke="#3a3a3a" stroke-width="1.2" />
<line x1="145.35" y1="297.02" x2="145.35" y2="323.88" stroke="#3a3a3a" stroke-width="1.2" />
<line x1="143.05" y1="297.02" x2="147.65" y2="297.02" stroke="#3a3a3a" stroke-width="1.2" />
<line x1="143.05" y1="323.88" x2="147.65" y2="323.88" stroke="#3a3a3a" stroke-width="1.2" />
<line x1="152.64" y1="291.65" x2="152.64" y2="322.34" stroke="#3a3a3a" stroke-width="1.2" />
<line x1="150.34" y1="291.65" x2="154.94" y2="291.65" stroke="#3a3a3a" stroke-width="1.2" />
<line x1="150.34" y1="322.34" x2="154.94" y2="322.34" stroke="#3a3a3a" stroke-width="1.2" />
<line x1="159.93" y1="293.96" x2="159.93" y2="322.73" stroke="#3a3a3a" stroke-width="1.2" />
<line x1="157.63" y1="293.96" x2="162.23" y2="293.96" stroke="#3a3a3a" stroke-width="1.2" />
<line x1="157.63" y1="322.73" x2="162.23" y2="322.73" stroke="#3a3a3a" stroke-width="1.2" />
<line x1="167.22" y1="292.42" x2="167.22" y2="315.44" stroke="#3a3a3a" stroke-width="1.2" />
<line x1="164.92" y1="292.42" x2="169.52" y2="292.42" stroke="#3a3a3a" stroke-width="1.2" />
<line x1="164.92" y1="315.44" x2="169.52" y2="315.44" stroke="#3a3a3a" stroke-width="1.2" />
<line x1="174.51" y1="288.01" x2="174.51" y2="312.94" stroke="#3a3a3a" stroke-width="1.2" />
<line x1="172.21" y1="288.01" x2="176.81" y2="288.01" stroke="#3a3a3a" stroke-width="1.2" />
<line x1="172.21" y1="312.94" x2="176.81" y2="312.94" stroke="#3a3a3a" stroke-width="1.2" />
<line x1="181.8" y1="287.15" x2="181.8" y2="308.24" stroke="#3a3a3a" stroke-width="1.2" />
<line x1="179.5" y1="287.15" x2="184.1" y2="287.15" stroke="#3a3a3a" stroke-width="1.2" />
<line x1="179.5" y1="308.24" x2="184.1" y2="308.24" stroke="#3a3a3a" stroke-width="1.2" />
<line x1="189.09" y1="287.63" x2="189.09" y2="308.72" stroke="#3a3a3a" stroke-width="1.2" />
<line x1="186.79" y1="287.63" x2="191.39" y2="287.63" stroke="#3a3a3a" stroke-width="1.2" />
<line x1="186.79" y1="308.72" x2="191.39" y2="308.72" stroke="#3a3a3a" stroke-width="1.2" />
<line x1="196.38" y1="292.04" x2="196.38" y2="313.14" stroke="#3a3a3a" stroke-width="1.2" />
<line x1="194.08" y1="292.04" x2="198.68" y2="292.04" stroke="#3a3a3a" stroke-width="1.2" />
<line x1="194.08" y1="313.14" x2="198.68" y2="313.14" stroke="#3a3a3a" stroke-width="1.2" />
<line x1="203.67" y1="292.13" x2="203.67" y2="315.15" stroke="#3a3a3a" stroke-width="1.2" />
<line x1="201.37" y1="292.13" x2="205.97" y2="292.13" stroke="#3a3a3a" stroke-width="1.2" />
<line x1="201.37" y1="315.15" x2="205.97" y2="315.15" stroke="#3a3a3a" stroke-width="1.2" />
<line x1="210.96" y1="291.56" x2="210.96" y2="314.57" stroke="#3a3a3a" stroke-width="1.2" />
<line x1="208.66" y1="291.56" x2="213.26" y2="291.56" stroke="#3a3a3a" stroke-width="1.2" />
<line x1="208.66" y1="314.57" x2="213.26" y2="314.57" stroke="#3a3a3a" stroke-width="1.2" />
<line x1="218.25" y1="288.87" x2="218.25" y2="311.89" stroke="#3a3a3a" stroke-width="1.2" />
<line x1="215.95" y1="288.87" x2="220.55" y2="288.87" stroke="#3a3a3a" stroke-width="1.2" />
<line x1="215.95" y1="311.89" x2="220.55" y2="311.89" stroke="#3a3a3a" stroke-width="1.2" />
<line x1="225.54" y1="292.71" x2="225.54" y2="323.4" stroke="#3a3a3a" stroke-width="1.2" />
<line x1="223.24" y1="292.71" x2="227.84" y2="292.71" stroke="#3a3a3a" stroke-width="1.2" />
<line x1="223.24" y1="323.4" x2="227.84" y2="323.4" stroke="#3a3a3a" stroke-width="1.2" />
<line x1="232.83" y1="291.75" x2="232.83" y2="320.52" stroke="#3a3a3a" stroke-width="1.2" />
<line x1="230.53" y1="291.75" x2="235.13" y2="291.75" stroke="#3a3a3a" stroke-width="1.2" />
<line x1="230.53" y1="320.52" x2="235.13" y2="320.52" stroke="#3a3a3a" stroke-width="1.2" />
<line x1="240.12" y1="288.39" x2="240.12" y2="315.25" stroke="#3a3a3a" stroke-width="1.2" />
<line x1="237.82" y1="288.39" x2="242.42" y2="288.39" stroke="#3a3a3a" stroke-width="1.2" />
<line x1="237.82" y1="315.25" x2="242.42" y2="315.25" stroke="#3a3a3a" stroke-width="1.2" />
<line x1="247.41" y1="274.58" x2="247.41" y2="307.19" stroke="#3a3a3a" stroke-width="1.2" />
<line x1="245.11" y1="274.58" x2="249.71" y2="274.58" stroke="#3a3a3a" stroke-width="1.2" />
<line x1="245.11" y1="307.19" x2="249.71" y2="307.19" stroke="#3a3a3a" stroke-width="1.2" />
<line x1="254.7" y1="282.54" x2="254.7" y2="303.64" stroke="#3a3a3a" stroke-width="1.2" />
<line x1="252.4" y1="282.54" x2="257" y2="282.54" stroke="#3a3a3a" stroke-width="1.2" />
<line x1="252.4" y1="303.64" x2="257" y2="303.64" stroke="#3a3a3a" stroke-width="1.2" />
<line x1="50.58" y1="274.78" x2="50.58" y2="297.79" stroke="#3a3a3a" stroke-width="1.2" />
<line x1="48.28" y1="274.78" x2="52.88" y2="274.78" stroke="#3a3a3a" stroke-width="1.2" />
<line x1="48.28" y1="297.79" x2="52.88" y2="297.79" stroke="#3a3a3a" stroke-width="1.2" />
<line x1="57.87" y1="272.76" x2="57.87" y2="301.53" stroke="#3a3a3a" stroke-width="1.2" />
<line x1="55.57" y1="272.76" x2="60.17" y2="272.76" stroke="#3a3a3a" stroke-width="1.2" />
<line x1="55.57" y1="301.53" x2="60.17" y2="301.53" stroke="#3a3a3a" stroke-width="1.2" />
<line x1="65.16" y1="272.95" x2="65.16" y2="307.48" stroke="#3a3a3a" stroke-width="1.2" />
<line x1="62.86" y1="272.95" x2="67.46" y2="272.95" stroke="#3a3a3a" stroke-width="1.2" />
<line x1="62.86" y1="307.48" x2="67.46" y2="307.48" stroke="#3a3a3a" stroke-width="1.2" />
<line x1="72.45" y1="275.35" x2="72.45" y2="313.71" stroke="#3a3a3a" stroke-width="1.2" />
<line x1="70.15" y1="275.35" x2="74.75" y2="275.35" stroke="#3a3a3a" stroke-width="1.2" />
<line x1="70.15" y1="313.71" x2="74.75" y2="313.71" stroke="#3a3a3a" stroke-width="1.2" />
<line x1="79.74" y1="288.11" x2="79.74" y2="326.47" stroke="#3a3a3a" stroke-width="1.2" />
<line x1="77.44" y1="288.11" x2="82.04" y2="288.11" stroke="#3a3a3a" stroke-width="1.2" />
<line x1="77.44" y1="326.47" x2="82.04" y2="326.47" stroke="#3a3a3a" stroke-width="1.2" />
<line x1="87.03" y1="299.9" x2="87.03" y2="342.1" stroke="#3a3a3a" stroke-width="1.2" />
<line x1="84.73" y1="299.9" x2="89.33" y2="299.9" stroke="#3a3a3a" stroke-width="1.2" />
<line x1="84.73" y1="342.1" x2="89.33" y2="342.1" stroke="#3a3a3a" stroke-width="1.2" />
<line x1="94.32" y1="320.04" x2="94.32" y2="362.24" stroke="#3a3a3a" stroke-width="1.2" />
<line x1="92.02" y1="320.04" x2="96.62" y2="320.04" stroke="#3a3a3a" stroke-width="1.2" />
<line x1="92.02" y1="362.24" x2="96.62" y2="362.24" stroke="#3a3a3a" stroke-width="1.2" />
<line x1="101.61" y1="329.53" x2="101.61" y2="371.73" stroke="#3a3a3a" stroke-width="1.2" />
<line x1="99.31" y1="329.53" x2="103.91" y2="329.53" stroke="#3a3a3a" stroke-width="1.2" />
<line x1="99.31" y1="371.73" x2="103.91" y2="371.73" stroke="#3a3a3a" stroke-width="1.2" />
<line x1="108.9" y1="340.47" x2="108.9" y2="373.07" stroke="#3a3a3a" stroke-width="1.2" />
<line x1="106.6" y1="340.47" x2="111.2" y2="340.47" stroke="#3a3a3a" stroke-width="1.2" />
<line x1="106.6" y1="373.07" x2="111.2" y2="373.07" stroke="#3a3a3a" stroke-width="1.2" />
<line x1="116.19" y1="349.39" x2="116.19" y2="372.4" stroke="#3a3a3a" stroke-width="1.2" />
<line x1="113.89" y1="349.39" x2="118.49" y2="349.39" stroke="#3a3a3a" stroke-width="1.2" />
<line x1="113.89" y1="372.4" x2="118.49" y2="372.4" stroke="#3a3a3a" stroke-width="1.2" />
<line x1="123.48" y1="355.33" x2="123.48" y2="370.68" stroke="#3a3a3a" stroke-width="1.2" />
<line x1="121.18" y1="355.33" x2="125.78" y2="355.33" stroke="#3a3a3a" stroke-width="1.2" />
<line x1="121.18" y1="370.68" x2="125.78" y2="370.68" stroke="#3a3a3a" stroke-width="1.2" />
<line x1="130.77" y1="359.26" x2="130.77" y2="374.61" stroke="#3a3a3a" stroke-width="1.2" />
<line x1="128.47" y1="359.26" x2="133.07" y2="359.26" stroke="#3a3a3a" stroke-width="1.2" />
<line x1="128.47" y1="374.61" x2="133.07" y2="374.61" stroke="#3a3a3a" stroke-width="1.2" />
<line x1="138.06" y1="354.66" x2="138.06" y2="370" stroke="#3a3a3a" stroke-width="1.2" />
<line x1="135.76" y1="354.66" x2="140.36" y2="354.66" stroke="#3a3a3a" stroke-width="1.2" />
<line x1="135.76" y1="370" x2="140.36" y2="370" stroke="#3a3a3a" stroke-width="1.2" />
<line x1="145.35" y1="350.06" x2="145.35" y2="373.07" stroke="#3a3a3a" stroke-width="1.2" />
<line x1="143.05" y1="350.06" x2="147.65" y2="350.06" stroke="#3a3a3a" stroke-width="1.2" />
<line x1="143.05" y1="373.07" x2="147.65" y2="373.07" stroke="#3a3a3a" stroke-width="1.2" />
<line x1="152.64" y1="345.26" x2="152.64" y2="377.87" stroke="#3a3a3a" stroke-width="1.2" />
<line x1="150.34" y1="345.26" x2="154.94" y2="345.26" stroke="#3a3a3a" stroke-width="1.2" />
<line x1="150.34" y1="377.87" x2="154.94" y2="377.87" stroke="#3a3a3a" stroke-width="1.2" />
<line x1="159.93" y1="344.49" x2="159.93" y2="377.1" stroke="#3a3a3a" stroke-width="1.2" />
<line x1="157.63" y1="344.49" x2="162.23" y2="344.49" stroke="#3a3a3a" stroke-width="1.2" />
<line x1="157.63" y1="377.1" x2="162.23" y2="377.1" stroke="#3a3a3a" stroke-width="1.2" />
<line x1="167.22" y1="365.31" x2="167.22" y2="372.98" stroke="#3a3a3a" stroke-width="1.2" />
<line x1="164.92" y1="365.31" x2="169.52" y2="365.31" stroke="#3a3a3a" stroke-width="1.2" />
<line x1="164.92" y1="372.98" x2="169.52" y2="372.98" stroke="#3a3a3a" stroke-width="1.2" />
<line x1="174.51" y1="365.31" x2="174.51" y2="372.98" stroke="#3a3a3a" stroke-width="1.2" />
<line x1="172.21" y1="365.31" x2="176.81" y2="365.31" stroke="#3a3a3a" stroke-width="1.2" />
<line x1="172.21" y1="372.98" x2="176.81" y2="372.98" stroke="#3a3a3a" stroke-width="1.2" />
<line x1="181.8" y1="365.31" x2="181.8" y2="372.98" stroke="#3a3a3a" stroke-width="1.2" />
<line x1="179.5" y1="365.31" x2="184.1" y2="365.31" stroke="#3a3a3a" stroke-width="1.2" />
<line x1="179.5" y1="372.98" x2="184.1" y2="372.98" stroke="#3a3a3a" stroke-width="1.2" />
<line x1="189.09" y1="365.31" x2="189.09" y2="372.98" stroke="#3a3a3a" stroke-width="1.2" />
<line x1="186.79" y1="365.31" x2="191.39" y2="365.31" stroke="#3a3a3a" stroke-width="1.2" />
<line x1="186.79" y1="372.98" x2="191.39" y2="372.98" stroke="#3a3a3a" stroke-width="1.2" />
<line x1="196.38" y1="365.31" x2="196.38" y2="372.98" stroke="#3a3a3a" stroke-width="1.2" />
<line x1="194.08" y1="365.31" x2="198.68" y2="365.31" stroke="#3a3a3a" stroke-width="1.2" />
<line x1="194.08" y1="372.98" x2="198.68" y2="372.98" stroke="#3a3a3a" stroke-width="1.2" />
<line x1="203.67" y1="365.31" x2="203.67" y2="372.98" stroke="#3a3a3a" stroke-width="1.2" />
<line x1="201.37" y1="365.31" x2="205.97" y2="365.31" stroke="#3a3a3a" stroke-width="1.2" />
<line x1="201.37" y1="372.98" x2="205.97" y2="372.98" stroke="#3a3a3a" stroke-width="1.2" />
<line x1="210.96" y1="365.31" x2="210.96" y2="372.98" stroke="#3a3a3a" stroke-width="1.2" />
<line x1="208.66" y1="365.31" x2="213.26" y2="365.31" stroke="#3a3a3a" stroke-width="1.2" />
<line x1="208.66" y1="372.98" x2="213.26" y2="372.98" stroke="#3a3a3a" stroke-width="1.2" />
<line x1="218.25" y1="365.31" x2="218.25" y2="372.98" stroke="#3a3a3a" stroke-width="1.2" />
<line x1="215.95" y1="365.31" x2="220.55" y2="365.31" stroke="#3a3a3a" stroke-width="1.2" />
<line x1="215.95" y1="372.98" x2="220.55" y2="372.98" stroke="#3a3a3a" stroke-width="1.2" />
<line x1="225.54" y1="365.31" x2="225.54" y2="372.98" stroke="#3a3a3a" stroke-width="1.2" />
<line x1="223.24" y1="365.31" x2="227.84" y2="365.31" stroke="#3a3a3a" stroke-width="1.2" />
<line x1="223.24" y1="372.98" x2="227.84" y2="372.98" stroke="#3a3a3a" stroke-width="1.2" />
<line x1="232.83" y1="365.31" x2="232.83" y2="372.98" stroke="#3a3a3a" stroke-width="1.2" />
<line x1="230.53" y1="365.31" x2="235.13" y2="365.31" stroke="#3a3a3a" stroke-width="1.2" />
<line x1="230.53" y1="372.98" x2="235.13" y2="372.98" stroke="#3a3a3a" stroke-width="1.2" />
<line x1="240.12" y1="365.31" x2="240.12" y2="372.98" stroke="#3a3a3a" stroke-width="1.2" />
<line x1="237.82" y1="365.31" x2="242.42" y2="365.31" stroke="#3a3a3a" stroke-width="1.2" />
<line x1="237.82" y1="372.98" x2="242.42" y2="372.98" stroke="#3a3a3a" stroke-width="1.2" />
<line x1="247.41" y1="365.31" x2="247.41" y2="372.98" stroke="#3a3a3a" stroke-width="1.2" />
<line x1="245.11" y1="365.31" x2="249.71" y2="365.31" stroke="#3a3a3a" stroke-width="1.2" />
<line x1="245.11" y1="372.98" x2="249.71" y2="372.98" stroke="#3a3a3a" stroke-width="1.2" />
<line x1="254.7" y1="365.31" x2="254.7" y2="372.98" stroke="#3a3a3a" stroke-width="1.2" />
<line x1="252.4" y1="365.31" x2="257" y2="365.31" stroke="#3a3a3a" stroke-width="1.2" />
<line x1="252.4" y1="372.98" x2="257" y2="372.98" stroke="#3a3a3a" stroke-width="1.2" />
<line x1="50.58" y1="274.2" x2="50.58" y2="297.22" stroke="#3a3a3a" stroke-width="1.2" />
<line x1="48.28" y1="274.2" x2="52.88" y2="274.2" stroke="#3a3a3a" stroke-width="1.2" />
<line x1="48.28" y1="297.22" x2="52.88" y2="297.22" stroke="#3a3a3a" stroke-width="1.2" />
<line x1="57.87" y1="259.34" x2="57.87" y2="282.35" stroke="#3a3a3a" stroke-width="1.2" />
<line x1="55.57" y1="259.34" x2="60.17" y2="259.34" stroke="#3a3a3a" stroke-width="1.2" />
<line x1="55.57" y1="282.35" x2="60.17" y2="282.35" stroke="#3a3a3a" stroke-width="1.2" />
<line x1="65.16" y1="266.05" x2="65.16" y2="289.06" stroke="#3a3a3a" stroke-width="1.2" />
<line x1="62.86" y1="266.05" x2="67.46" y2="266.05" stroke="#3a3a3a" stroke-width="1.2" />
<line x1="62.86" y1="289.06" x2="67.46" y2="289.06" stroke="#3a3a3a" stroke-width="1.2" />
<line x1="72.45" y1="297.02" x2="72.45" y2="325.79" stroke="#3a3a3a" stroke-width="1.2" />
<line x1="70.15" y1="297.02" x2="74.75" y2="297.02" stroke="#3a3a3a" stroke-width="1.2" />
<line x1="70.15" y1="325.79" x2="74.75" y2="325.79" stroke="#3a3a3a" stroke-width="1.2" />
<line x1="79.74" y1="318.89" x2="79.74" y2="347.66" stroke="#3a3a3a" stroke-width="1.2" />
<line x1="77.44" y1="318.89" x2="82.04" y2="318.89" stroke="#3a3a3a" stroke-width="1.2" />
<line x1="77.44" y1="347.66" x2="82.04" y2="347.66" stroke="#3a3a3a" stroke-width="1.2" />
<line x1="87.03" y1="336.63" x2="87.03" y2="359.65" stroke="#3a3a3a" stroke-width="1.2" />
<line x1="84.73" y1="336.63" x2="89.33" y2="336.63" stroke="#3a3a3a" stroke-width="1.2" />
<line x1="84.73" y1="359.65" x2="89.33" y2="359.65" stroke="#3a3a3a" stroke-width="1.2" />
<line x1="94.32" y1="349.29" x2="94.32" y2="368.47" stroke="#3a3a3a" stroke-width="1.2" />
<line x1="92.02" y1="349.29" x2="96.62" y2="349.29" stroke="#3a3a3a" stroke-width="1.2" />
<line x1="92.02" y1="368.47" x2="96.62" y2="368.47" stroke="#3a3a3a" stroke-width="1.2" />
<line x1="101.61" y1="355.33" x2="101.61" y2="370.68" stroke="#3a3a3a" stroke-width="1.2" />
<line x1="99.31" y1="355.33" x2="103.91" y2="355.33" stroke="#3a3a3a" stroke-width="1.2" />
<line x1="99.31" y1="370.68" x2="103.91" y2="370.68" stroke="#3a3a3a" stroke-width="1.2" />
<line x1="108.9" y1="358.59" x2="108.9" y2="373.94" stroke="#3a3a3a" stroke-width="1.2" />
<line x1="106.6" y1="358.59" x2="111.2" y2="358.59" stroke="#3a3a3a" stroke-width="1.2" />
<line x1="106.6" y1="373.94" x2="111.2" y2="373.94" stroke="#3a3a3a" stroke-width="1.2" />
<line x1="116.19" y1="353.8" x2="116.19" y2="369.14" stroke="#3a3a3a" stroke-width="1.2" />
<line x1="113.89" y1="353.8" x2="118.49" y2="353.8" stroke="#3a3a3a" stroke-width="1.2" />
<line x1="113.89" y1="369.14" x2="118.49" y2="369.14" stroke="#3a3a3a" stroke-width="1.2" />
<line x1="123.48" y1="351.21" x2="123.48" y2="366.55" stroke="#3a3a3a" stroke-width="1.2" />
<line x1="121.18" y1="351.21" x2="125.78" y2="351.21" stroke="#3a3a3a" stroke-width="1.2" />
<line x1="121.18" y1="366.55" x2="125.78" y2="366.55" stroke="#3a3a3a" stroke-width="1.2" />
<line x1="130.77" y1="346.12" x2="130.77" y2="361.47" stroke="#3a3a3a" stroke-width="1.2" />
<line x1="128.47" y1="346.12" x2="133.07" y2="346.12" stroke="#3a3a3a" stroke-width="1.2" />
<line x1="128.47" y1="361.47" x2="133.07" y2="361.47" stroke="#3a3a3a" stroke-width="1.2" />
<line x1="138.06" y1="354.76" x2="138.06" y2="370.1" stroke="#3a3a3a" stroke-width="1.2" />
<line x1="135.76" y1="354.76" x2="140.36" y2="354.76" stroke="#3a3a3a" stroke-width="1.2" />
<line x1="135.76" y1="370.1" x2="140.36" y2="370.1" stroke="#3a3a3a" stroke-width="1.2" />
<line x1="145.35" y1="346.12" x2="145.35" y2="361.47" stroke="#3a3a3a" stroke-width="1.2" />
<line x1="143.05" y1="346.12" x2="147.65" y2="346.12" stroke="#3a3a3a" stroke-width="1.2" />
<line x1="143.05" y1="361.47" x2="147.65" y2="361.47" stroke="#3a3a3a" stroke-width="1.2" />
<line x1="152.64" y1="355.43" x2="152.64" y2="370.77" stroke="#3a3a3a" stroke-width="1.2" />
<line x1="150.34" y1="355.43" x2="154.94" y2="355.43" stroke="#3a3a3a" stroke-width="1.2" />
<line x1="150.34" y1="370.77" x2="154.94" y2="370.77" stroke="#3a3a3a" stroke-width="1.2" />
<line x1="159.93" y1="353.8" x2="159.93" y2="369.14" stroke="#3a3a3a" stroke-width="1.2" />
<line x1="157.63" y1="353.8" x2="162.23" y2="353.8" stroke="#3a3a3a" stroke-width="1.2" />
<line x1="157.63" y1="369.14" x2="162.23" y2="369.14" stroke="#3a3a3a" stroke-width="1.2" />
<line x1="167.22" y1="350.82" x2="167.22" y2="366.17" stroke="#3a3a3a" stroke-width="1.2" />
<line x1="164.92" y1="350.82" x2="169.52" y2="350.82" stroke="#3a3a3a" stroke-width="1.2" />
<line x1="164.92" y1="366.17" x2="169.52" y2="366.17" stroke="#3a3a3a" stroke-width="1.2" />
<line x1="174.51" y1="359.07" x2="174.51" y2="368.66" stroke="#3a3a3a" stroke-width="1.2" />
<line x1="172.21" y1="359.07" x2="176.81" y2="359.07" stroke="#3a3a3a" stroke-width="1.2" />
<line x1="172.21" y1="368.66" x2="176.81" y2="368.66" stroke="#3a3a3a" stroke-width="1.2" />
<line x1="181.8" y1="360.51" x2="181.8" y2="370.1" stroke="#3a3a3a" stroke-width="1.2" />
<line x1="179.5" y1="360.51" x2="184.1" y2="360.51" stroke="#3a3a3a" stroke-width="1.2" />
<line x1="179.5" y1="370.1" x2="184.1" y2="370.1" stroke="#3a3a3a" stroke-width="1.2" />
<line x1="189.09" y1="360.51" x2="189.09" y2="370.1" stroke="#3a3a3a" stroke-width="1.2" />
<line x1="186.79" y1="360.51" x2="191.39" y2="360.51" stroke="#3a3a3a" stroke-width="1.2" />
<line x1="186.79" y1="370.1" x2="191.39" y2="370.1" stroke="#3a3a3a" stroke-width="1.2" />
<line x1="196.38" y1="360.51" x2="196.38" y2="370.1" stroke="#3a3a3a" stroke-width="1.2" />
<line x1="194.08" y1="360.51" x2="198.68" y2="360.51" stroke="#3a3a3a" stroke-width="1.2" />
<line x1="194.08" y1="370.1" x2="198.68" y2="370.1" stroke="#3a3a3a" stroke-width="1.2" />
<line x1="203.67" y1="360.51" x2="203.67" y2="370.1" stroke="#3a3a3a" stroke-width="1.2" />
<line x1="201.37" y1="360.51" x2="205.97" y2="360.51" stroke="#3a3a3a" stroke-width="1.2" />
<line x1="201.37" y1="370.1" x2="205.97" y2="370.1" stroke="#3a3a3a" stroke-width="1.2" />
<line x1="210.96" y1="357.63" x2="210.96" y2="372.98" stroke="#3a3a3a" stroke-width="1.2" />
<line x1="208.66" y1="357.63" x2="213.26" y2="357.63" stroke="#3a3a3a" stroke-width="1.2" />
<line x1="208.66" y1="372.98" x2="213.26" y2="372.98" stroke="#3a3a3a" stroke-width="1.2" />
<line x1="218.25" y1="357.63" x2="218.25" y2="372.98" stroke="#3a3a3a" stroke-width="1.2" />
<line x1="215.95" y1="357.63" x2="220.55" y2="357.63" stroke="#3a3a3a" stroke-width="1.2" />
<line x1="215.95" y1="372.98" x2="220.55" y2="372.98" stroke="#3a3a3a" stroke-width="1.2" />
<line x1="225.54" y1="360.51" x2="225.54" y2="370.1" stroke="#3a3a3a" stroke-width="1.2" />
<line x1="223.24" y1="360.51" x2="227.84" y2="360.51" stroke="#3a3a3a" stroke-width="1.2" />
<line x1="223.24" y1="370.1" x2="227.84" y2="370.1" stroke="#3a3a3a" stroke-width="1.2" />
<line x1="232.83" y1="360.51" x2="232.83" y2="370.1" stroke="#3a3a3a" stroke-width="1.2" />
<line x1="230.53" y1="360.51" x2="235.13" y2="360.51" stroke="#3a3a3a" stroke-width="1.2" />
<line x1="230.53" y1="370.1" x2="235.13" y2="370.1" stroke="#3a3a3a" stroke-width="1.2" />
<line x1="240.12" y1="360.51" x2="240.12" y2="370.1" stroke="#3a3a3a" stroke-width="1.2" />
<line x1="237.82" y1="360.51" x2="242.42" y2="360.51" stroke="#3a3a3a" stroke-width="1.2" />
<line x1="237.82" y1="370.1" x2="242.42" y2="370.1" stroke="#3a3a3a" stroke-width="1.2" />
<line x1="247.41" y1="360.51" x2="247.41" y2="370.1" stroke="#3a3a3a" stroke-width="1.2" />
<line x1="245.11" y1="360.51" x2="249.71" y2="360.51" stroke="#3a3a3a" stroke-width="1.2" />
<line x1="245.11" y1="370.1" x2="249.71" y2="370.1" stroke="#3a3a3a" stroke-width="1.2" />
<line x1="254.7" y1="360.51" x2="254.7" y2="370.1" stroke="#3a3a3a" stroke-width="1.2" />
<line x1="252.4" y1="360.51" x2="257" y2="360.51" stroke="#3a3a3a" stroke-width="1.2" />
<line x1="252.4" y1="370.1" x2="257" y2="370.1" stroke="#3a3a3a" stroke-width="1.2" />
<polyline points="50.58,264.42 57.87,270.36 65.16,277.08 72.45,275.16 79.74,281.87 87.03,300.57 94.32,297.41 101.61,298.65 108.9,304.22 116.19,306.33 123.48,302.39 130.77,300.19 138.06,304.31 145.35,310.45 152.64,307 159.93,308.34 167.22,303.93 174.51,300.48 181.8,297.7 189.09,298.18 196.38,302.59 203.67,303.64 210.96,303.07 218.25,300.38 225.54,308.05 232.83,306.13 240.12,301.82 247.41,290.89 254.7,293.09" fill="none" stroke="#000" stroke-width="1.2"/>
<path d="M50.58 261.12L54.08 266.62L47.08 266.62Z" fill="#000"/>
<path d="M57.87 267.06L61.37 272.56L54.37 272.56Z" fill="#000"/>
<path d="M65.16 273.78L68.66 279.28L61.66 279.28Z" fill="#000"/>
<path d="M72.45 271.86L75.95 277.36L68.95 277.36Z" fill="#000"/>
<path d="M79.74 278.57L83.24 284.07L76.24 284.07Z" fill="#000"/>
<path d="M87.03 297.27L90.53 302.77L83.53 302.77Z" fill="#000"/>
<path d="M94.32 294.11L97.82 299.61L90.82 299.61Z" fill="#000"/>
<path d="M101.61 295.35L105.11 300.85L98.11 300.85Z" fill="#000"/>
<path d="M108.9 300.92L112.4 306.42L105.4 306.42Z" fill="#000"/>
<path d="M116.19 303.03L119.69 308.53L112.69 308.53Z" fill="#000"/>
<path d="M123.48 299.09L126.98 304.59L119.98 304.59Z" fill="#000"/>
<path d="M130.77 296.89L134.27 302.39L127.27 302.39Z" fill="#000"/>
<path d="M138.06 301.01L141.56 306.51L134.56 306.51Z" fill="#000"/>
<path d="M145.35 307.15L148.85 312.65L141.85 312.65Z" fill="#000"/>
<path d="M152.64 303.7L156.14 309.2L149.14 309.2Z" fill="#000"/>
<path d="M159.93 305.04L163.43 310.54L156.43 310.54Z" fill="#000"/>
<path d="M167.22 300.63L170.72 306.13L163.72 306.13Z" fill="#000"/>
<path d="M174.51 297.18L178.01 302.68L171.01 302.68Z" fill="#000"/>
<path d="M181.8 294.4L185.3 299.9L178.3 299.9Z" fill="#000"/>
<path d="M189.09 294.88L192.59 300.38L185.59 300.38Z" fill="#000"/>
<path d="M196.38 299.29L199.88 304.79L192.88 304.79Z" fill="#000"/>
<path d="M203.67 300.34L207.17 305.84L200.17 305.84Z" fill="#000"/>
<path d="M210.96 299.77L214.46 305.27L207.46 305.27Z" fill="#000"/>
<path d="M218.25 297.08L221.75 302.58L214.75 302.58Z" fill="#000"/>
<path d="M225.54 304.75L229.04 310.25L222.04 310.25Z" fill="#000"/>
<path d="M232.83 302.83L236.33 308.33L229.33 308.33Z" fill="#000"/>
<path d="M240.12 298.52L243.62 304.02L236.62 304.02Z" fill="#000"/>
<path d="M247.41 287.59L250.91 293.09L243.91 293.09Z" fill="#000"/>
<path d="M254.7 289.79L258.2 295.29L251.2 295.29Z" fill="#000"/>
<polyline points="50.58,285.71 57.87,270.84 65.16,277.56 72.45,311.41 79.74,333.27 87.03,348.14 94.32,358.88 101.61,363 108.9,366.26 116.19,361.47 123.48,358.88 130.77,353.8 138.06,362.43 145.35,353.8 152.64,363.1 159.93,361.47 167.22,358.5 174.51,363.87 181.8,365.31 189.09,365.31 196.38,365.31 203.67,365.31 210.96,365.31 218.25,365.31 225.54,365.31 232.83,365.31 240.12,365.31 247.41,365.31 254.7,365.31" fill="none" stroke="#000" stroke-width="1.2"/>
<path d="M50.58 289.01L54.08 283.51L47.08 283.51Z" fill="#000"/>
<path d="M57.87 274.14L61.37 268.64L54.37 268.64Z" fill="#000"/>
<path d="M65.16 280.86L68.66 275.36L61.66 275.36Z" fill="#000"/>
<path d="M72.45 314.71L75.95 309.21L68.95 309.21Z" fill="#000"/>
<path d="M79.74 336.57L83.24 331.07L76.24 331.07Z" fill="#000"/>
<path d="M87.03 351.44L90.53 345.94L83.53 345.94Z" fill="#000"/>
<path d="M94.32 362.18L97.82 356.68L90.82 356.68Z" fill="#000"/>
<path d="M101.61 366.3L105.11 360.8L98.11 360.8Z" fill="#000"/>
<path d="M108.9 369.56L112.4 364.06L105.4 364.06Z" fill="#000"/>
<path d="M116.19 364.77L119.69 359.27L112.69 359.27Z" fill="#000"/>
<path d="M123.48 362.18L126.98 356.68L119.98 356.68Z" fill="#000"/>
<path d="M130.77 357.1L134.27 351.6L127.27 351.6Z" fill="#000"/>
<path d="M138.06 365.73L141.56 360.23L134.56 360.23Z" fill="#000"/>
<path d="M145.35 357.1L148.85 351.6L141.85 351.6Z" fill="#000"/>
<path d="M152.64 366.4L156.14 360.9L149.14 360.9Z" fill="#000"/>
<path d="M159.93 364.77L163.43 359.27L156.43 359.27Z" fill="#000"/>
<path d="M167.22 361.8L170.72 356.3L163.72 356.3Z" fill="#000"/>
<path d="M174.51 367.17L178.01 361.67L171.01 361.67Z" fill="#000"/>
<path d="M181.8 368.61L185.3 363.11L178.3 363.11Z" fill="#000"/>
<path d="M189.09 368.61L192.59 363.11L185.59 363.11Z" fill="#000"/>
<path d="M196.38 368.61L199.88 363.11L192.88 363.11Z" fill="#000"/>
<path d="M203.67 368.61L207.17 363.11L200.17 363.11Z" fill="#000"/>
<path d="M210.96 368.61L214.46 363.11L207.46 363.11Z" fill="#000"/>
<path d="M218.25 368.61L221.75 363.11L214.75 363.11Z" fill="#000"/>
<path d="M225.54 368.61L229.04 363.11L222.04 363.11Z" fill="#000"/>
<path d="M232.83 368.61L236.33 363.11L229.33 363.11Z" fill="#000"/>
<path d="M240.12 368.61L243.62 363.11L236.62 363.11Z" fill="#000"/>
<path d="M247.41 368.61L250.91 363.11L243.91 363.11Z" fill="#000"/>
<path d="M254.7 368.61L258.2 363.11L251.2 363.11Z" fill="#000"/>
<polyline points="50.58,286.28 57.87,287.15 65.16,290.22 72.45,294.53 79.74,307.29 87.03,321 94.32,341.14 101.61,350.63 108.9,356.77 116.19,360.89 123.48,363 130.77,366.94 138.06,362.33 145.35,361.56 152.64,361.56 159.93,360.8 167.22,369.14 174.51,369.14 181.8,369.14 189.09,369.14 196.38,369.14 203.67,369.14 210.96,369.14 218.25,369.14 225.54,369.14 232.83,369.14 240.12,369.14 247.41,369.14 254.7,369.14" fill="none" stroke="#000" stroke-width="1.2"/>
<rect x="47.93" y="283.63" width="5.3" height="5.3" fill="#000"/>
<rect x="55.22" y="284.5" width="5.3" height="5.3" fill="#000"/>
<rect x="62.51" y="287.57" width="5.3" height="5.3" fill="#000"/>
<rect x="69.8" y="291.88" width="5.3" height="5.3" fill="#000"/>
<rect x="77.09" y="304.64" width="5.3" height="5.3" fill="#000"/>
<rect x="84.38" y="318.35" width="5.3" height="5.3" fill="#000"/>
<rect x="91.67" y="338.49" width="5.3" height="5.3" fill="#000"/>
<rect x="98.96" y="347.98" width="5.3" height="5.3" fill="#000"/>
<rect x="106.25" y="354.12" width="5.3" height="5.3" fill="#000"/>
<rect x="113.54" y="358.24" width="5.3" height="5.3" fill="#000"/>
<rect x="120.83" y="360.35" width="5.3" height="5.3" fill="#000"/>
<rect x="128.12" y="364.29" width="5.3" height="5.3" fill="#000"/>
<rect x="135.41" y="359.68" width="5.3" height="5.3" fill="#000"/>
<rect x="142.7" y="358.91" width="5.3" height="5.3" fill="#000"/>
<rect x="149.99" y="358.91" width="5.3" height="5.3" fill="#000"/>
<rect x="157.28" y="358.15" width="5.3" height="5.3" fill="#000"/>
<rect x="164.57" y="366.49" width="5.3" height="5.3" fill="#000"/>
<rect x="171.86" y="366.49" width="5.3" height="5.3" fill="#000"/>
<rect x="179.15" y="366.49" width="5.3" height="5.3" fill="#000"/>
<rect x="186.44" y="366.49" width="5.3" height="5.3" fill="#000"/>
<rect x="193.73" y="366.49" width="5.3" height="5.3" fill="#000"/>
<rect x="201.02" y="366.49" width="5.3" height="5.3" fill="#000"/>
<rect x="208.31" y="366.49" width="5.3" height="5.3" fill="#000"/>
<rect x="215.6" y="366.49" width="5.3" height="5.3" fill="#000"/>
<rect x="222.89" y="366.49" width="5.3" height="5.3" fill="#000"/>
<rect x="230.18" y="366.49" width="5.3" height="5.3" fill="#000"/>
<rect x="237.47" y="366.49" width="5.3" height="5.3" fill="#000"/>
<rect x="244.76" y="366.49" width="5.3" height="5.3" fill="#000"/>
<rect x="252.05" y="366.49" width="5.3" height="5.3" fill="#000"/>
<rect x="36" y="226.2" width="233.6" height="163.4" fill="none" stroke="#000" stroke-width="1.5"/>
<line x1="33.5" y1="370.1" x2="36" y2="370.1" stroke="#000" stroke-width="1" />
<text x="29.8" y="372.62" font-size="7" text-anchor="end" font-weight="normal" fill="#000" >0</text>
<line x1="33.5" y1="346.12" x2="36" y2="346.12" stroke="#000" stroke-width="1" />
<text x="29.8" y="348.64" font-size="7" text-anchor="end" font-weight="normal" fill="#000" >25</text>
<line x1="33.5" y1="322.15" x2="36" y2="322.15" stroke="#000" stroke-width="1" />
<text x="29.8" y="324.67" font-size="7" text-anchor="end" font-weight="normal" fill="#000" >50</text>
<line x1="33.5" y1="298.18" x2="36" y2="298.18" stroke="#000" stroke-width="1" />
<text x="29.8" y="300.69" font-size="7" text-anchor="end" font-weight="normal" fill="#000" >75</text>
<line x1="33.5" y1="274.2" x2="36" y2="274.2" stroke="#000" stroke-width="1" />
<text x="29.8" y="276.72" font-size="7" text-anchor="end" font-weight="normal" fill="#000" >100</text>
<line x1="33.5" y1="250.23" x2="36" y2="250.23" stroke="#000" stroke-width="1" />
<text x="29.8" y="252.75" font-size="7" text-anchor="end" font-weight="normal" fill="#000" >125</text>
<line x1="33.5" y1="226.25" x2="36" y2="226.25" stroke="#000" stroke-width="1" />
<text x="29.8" y="228.77" font-size="7" text-anchor="end" font-weight="normal" fill="#000" >150</text>
<line x1="36" y1="389.6" x2="36" y2="392.1" stroke="#000" stroke-width="1" />
<text x="36" y="402" font-size="7.3" text-anchor="middle" font-weight="normal" fill="#000" >0</text>
<line x1="72.45" y1="389.6" x2="72.45" y2="392.1" stroke="#000" stroke-width="1" />
<text x="72.45" y="402" font-size="7.3" text-anchor="middle" font-weight="normal" fill="#000" >5</text>
<line x1="108.9" y1="389.6" x2="108.9" y2="392.1" stroke="#000" stroke-width="1" />
<text x="108.9" y="402" font-size="7.3" text-anchor="middle" font-weight="normal" fill="#000" >10</text>
<line x1="145.35" y1="389.6" x2="145.35" y2="392.1" stroke="#000" stroke-width="1" />
<text x="145.35" y="402" font-size="7.3" text-anchor="middle" font-weight="normal" fill="#000" >15</text>
<line x1="181.8" y1="389.6" x2="181.8" y2="392.1" stroke="#000" stroke-width="1" />
<text x="181.8" y="402" font-size="7.3" text-anchor="middle" font-weight="normal" fill="#000" >20</text>
<line x1="218.25" y1="389.6" x2="218.25" y2="392.1" stroke="#000" stroke-width="1" />
<text x="218.25" y="402" font-size="7.3" text-anchor="middle" font-weight="normal" fill="#000" >25</text>
<line x1="254.7" y1="389.6" x2="254.7" y2="392.1" stroke="#000" stroke-width="1" />
<text x="254.7" y="402" font-size="7.3" text-anchor="middle" font-weight="normal" fill="#000" >30</text>
<line x1="221.4" y1="237" x2="236.4" y2="237" stroke="#000" stroke-width="1.2" />
<rect x="226.55" y="234.35" width="5.3" height="5.3" fill="#000"/>
<text x="240.2" y="239.47" font-size="6.3" text-anchor="start" font-weight="normal" fill="#000" >Saline</text>
<line x1="221.4" y1="245.2" x2="236.4" y2="245.2" stroke="#000" stroke-width="1.2" />
<path d="M229.2 248.92L232.4 242.72L226 242.72Z" fill="#000"/>
<text x="240.2" y="248.07" font-size="6.3" text-anchor="start" font-weight="normal" fill="#000" >DNase</text>
<line x1="221.4" y1="253.7" x2="236.4" y2="253.7" stroke="#000" stroke-width="1.2" />
<path d="M229.2 249.98L232.4 256.18L226 256.18Z" fill="#000"/>
<text x="240.2" y="256.17" font-size="6.3" text-anchor="start" font-weight="normal" fill="#000" >RNase</text>
<line x1="325.2" y1="38.39" x2="517" y2="38.39" stroke="#111" stroke-width="1.0" stroke-dasharray="1.3 1.15"/>
<path d="M322.1 15.2V175.1H518.2" fill="none" stroke="#000" stroke-width="1.5"/>
<line x1="319.6" y1="175.1" x2="322.1" y2="175.1" stroke="#000" stroke-width="1" />
<text x="317.5" y="178.48" font-size="9.4" text-anchor="end" font-weight="normal" fill="#000" >0</text>
<line x1="319.6" y1="129.43" x2="322.1" y2="129.43" stroke="#000" stroke-width="1" />
<text x="317.5" y="132.81" font-size="9.4" text-anchor="end" font-weight="normal" fill="#000" >10</text>
<line x1="319.6" y1="83.76" x2="322.1" y2="83.76" stroke="#000" stroke-width="1" />
<text x="317.5" y="87.14" font-size="9.4" text-anchor="end" font-weight="normal" fill="#000" >20</text>
<line x1="319.6" y1="38.09" x2="322.1" y2="38.09" stroke="#000" stroke-width="1" />
<text x="317.5" y="41.47" font-size="9.4" text-anchor="end" font-weight="normal" fill="#000" >30</text>
<line x1="354.6" y1="175.1" x2="354.6" y2="177.6" stroke="#000" stroke-width="1" />
<text x="354.6" y="186.9" font-size="9.1" text-anchor="middle" font-weight="normal" fill="#000" >Saline</text>
<line x1="420.1" y1="175.1" x2="420.1" y2="177.6" stroke="#000" stroke-width="1" />
<text x="420.1" y="186.9" font-size="9.1" text-anchor="middle" font-weight="normal" fill="#000" >RNase</text>
<line x1="485.6" y1="175.1" x2="485.6" y2="177.6" stroke="#000" stroke-width="1" />
<text x="485.6" y="186.9" font-size="9.1" text-anchor="middle" font-weight="normal" fill="#000" >DNase</text>
<line x1="333" y1="125.6" x2="376.7" y2="125.6" stroke="#000" stroke-width="1.3" />
<line x1="398.2" y1="38.6" x2="442.6" y2="38.6" stroke="#000" stroke-width="1.3" />
<line x1="463.8" y1="132.2" x2="507.2" y2="132.2" stroke="#000" stroke-width="1.3" />
<rect x="352.05" y="94.95" width="4.9" height="4.9" fill="#000"/>
<rect x="352.05" y="122.65" width="4.9" height="4.9" fill="#000"/>
<rect x="344.95" y="131.45" width="4.9" height="4.9" fill="#000"/>
<rect x="352.05" y="131.45" width="4.9" height="4.9" fill="#000"/>
<rect x="359.35" y="131.45" width="4.9" height="4.9" fill="#000"/>
<rect x="366.95" y="126.45" width="4.9" height="4.9" fill="#000"/>
<path d="M405.1 35.5L407.6 40.5L402.6 40.5Z" fill="#000"/>
<path d="M412.3 35.5L414.8 40.5L409.8 40.5Z" fill="#000"/>
<path d="M420.2 35.5L422.7 40.5L417.7 40.5Z" fill="#000"/>
<path d="M423.8 35.5L426.3 40.5L421.3 40.5Z" fill="#000"/>
<path d="M427.5 35.5L430 40.5L425 40.5Z" fill="#000"/>
<path d="M434.6 35.5L437.1 40.5L432.1 40.5Z" fill="#000"/>
<path d="M485.4 41.3L487.9 36.3L482.9 36.3Z" fill="#000"/>
<path d="M492.8 140.8L495.3 135.8L490.3 135.8Z" fill="#000"/>
<path d="M478.2 145.7L480.7 140.7L475.7 140.7Z" fill="#000"/>
<path d="M485.7 145.7L488.2 140.7L483.2 140.7Z" fill="#000"/>
<path d="M478.2 154.6L480.7 149.6L475.7 149.6Z" fill="#000"/>
<path d="M492.8 154.6L495.3 149.6L490.3 149.6Z" fill="#000"/>
<path d="M485.4 159.5L487.9 154.5L482.9 154.5Z" fill="#000"/>
<text x="338.3" y="91.6" font-size="8.5" fill="#2a2a2a" style="stroke:none" textLength="34" lengthAdjust="spacingAndGlyphs">10.8 <tspan fill="#888">±</tspan> 2.9</text>
<text x="413" y="29.1" font-size="8.5" fill="#2a2a2a" style="stroke:none" textLength="12.8" lengthAdjust="spacingAndGlyphs">&gt;30</text>
<text x="467.7" y="124.2" font-size="8.5" fill="#2a2a2a" style="stroke:none" textLength="30.5" lengthAdjust="spacingAndGlyphs">9.4 <tspan fill="#888">±</tspan> 8.5</text>
<line x1="323.8" y1="245.59" x2="515.4" y2="245.59" stroke="#111" stroke-width="1.0" stroke-dasharray="1.3 1.15"/>
<path d="M320.4 222.8V382.5H517.4" fill="none" stroke="#000" stroke-width="1.5"/>
<line x1="317.9" y1="382.5" x2="320.4" y2="382.5" stroke="#000" stroke-width="1" />
<text x="316" y="385.88" font-size="9.4" text-anchor="end" font-weight="normal" fill="#000" >0</text>
<line x1="317.9" y1="336.93" x2="320.4" y2="336.93" stroke="#000" stroke-width="1" />
<text x="316" y="340.31" font-size="9.4" text-anchor="end" font-weight="normal" fill="#000" >10</text>
<line x1="317.9" y1="291.36" x2="320.4" y2="291.36" stroke="#000" stroke-width="1" />
<text x="316" y="294.74" font-size="9.4" text-anchor="end" font-weight="normal" fill="#000" >20</text>
<line x1="317.9" y1="245.79" x2="320.4" y2="245.79" stroke="#000" stroke-width="1" />
<text x="316" y="249.17" font-size="9.4" text-anchor="end" font-weight="normal" fill="#000" >30</text>
<line x1="353.1" y1="382.5" x2="353.1" y2="385" stroke="#000" stroke-width="1" />
<text x="353.1" y="394.9" font-size="9.1" text-anchor="middle" font-weight="normal" fill="#000" >Saline</text>
<line x1="418.8" y1="382.5" x2="418.8" y2="385" stroke="#000" stroke-width="1" />
<text x="418.8" y="394.9" font-size="9.1" text-anchor="middle" font-weight="normal" fill="#000" >RNase</text>
<line x1="485" y1="382.5" x2="485" y2="385" stroke="#000" stroke-width="1" />
<text x="485" y="394.9" font-size="9.1" text-anchor="middle" font-weight="normal" fill="#000" >DNase</text>
<line x1="331" y1="342.6" x2="375.1" y2="342.6" stroke="#000" stroke-width="1.3" />
<line x1="397.2" y1="257.2" x2="440.8" y2="257.2" stroke="#000" stroke-width="1.3" />
<line x1="462.1" y1="337" x2="506.5" y2="337" stroke="#000" stroke-width="1.3" />
<rect x="358.15" y="325.35" width="4.9" height="4.9" fill="#000"/>
<rect x="350.75" y="330.35" width="4.9" height="4.9" fill="#000"/>
<rect x="343.15" y="334.95" width="4.9" height="4.9" fill="#000"/>
<rect x="350.75" y="339.55" width="4.9" height="4.9" fill="#000"/>
<rect x="343.15" y="348.55" width="4.9" height="4.9" fill="#000"/>
<rect x="358.15" y="348.55" width="4.9" height="4.9" fill="#000"/>
<rect x="350.75" y="353.15" width="4.9" height="4.9" fill="#000"/>
<path d="M403.8 243L406.3 248L401.3 248Z" fill="#000"/>
<path d="M411 243L413.5 248L408.5 248Z" fill="#000"/>
<path d="M418.3 243L420.8 248L415.8 248Z" fill="#000"/>
<path d="M425.8 243L428.3 248L423.3 248Z" fill="#000"/>
<path d="M433.3 243L435.8 248L430.8 248Z" fill="#000"/>
<path d="M418.6 311.2L421.1 316.2L416.1 316.2Z" fill="#000"/>
<path d="M484.3 248.4L486.8 243.4L481.8 243.4Z" fill="#000"/>
<path d="M484.4 344.6L486.9 339.6L481.9 339.6Z" fill="#000"/>
<path d="M477 354L479.5 349L474.5 349Z" fill="#000"/>
<path d="M484.4 354L486.9 349L481.9 349Z" fill="#000"/>
<path d="M492 354L494.5 349L489.5 349Z" fill="#000"/>
<path d="M484.4 362.8L486.9 357.8L481.9 357.8Z" fill="#000"/>
<path d="M492 362.8L494.5 357.8L489.5 357.8Z" fill="#000"/>
<text x="338.2" y="317.3" font-size="8.5" fill="#2a2a2a" style="stroke:none" textLength="30.2" lengthAdjust="spacingAndGlyphs">8.9 <tspan fill="#888">±</tspan> 2.1</text>
<text x="400.4" y="236.7" font-size="8.5" fill="#2a2a2a" style="stroke:none" textLength="34.6" lengthAdjust="spacingAndGlyphs">27.5 <tspan fill="#888">±</tspan> 5.6</text>
<text x="470.6" y="330.2" font-size="8.5" fill="#2a2a2a" style="stroke:none" textLength="31.3" lengthAdjust="spacingAndGlyphs">9.9 <tspan fill="#888">±</tspan> 8.3</text>
<text x="0.9" y="13.1" font-size="16.5" text-anchor="start" font-weight="bold" fill="#000" >A</text>
<text x="286.4" y="14" font-size="16.5" text-anchor="start" font-weight="bold" fill="#000" >B</text>
<text x="0.5" y="223.6" font-size="16.5" text-anchor="start" font-weight="bold" fill="#000" >C</text>
<text x="286.4" y="223.6" font-size="16.5" text-anchor="start" font-weight="bold" fill="#000" >D</text>
<text x="426.6" y="28.4" font-size="10" text-anchor="start" font-weight="normal" fill="#000" >*</text>
<text x="435" y="234.2" font-size="8.5" text-anchor="start" font-weight="normal" fill="#000" >*</text>
<text x="41.6" y="30.2" font-size="10.3" text-anchor="start" font-weight="normal" fill="#000" >Wild-type</text>
<text x="42.2" y="239.9" font-size="10.2">HRG<tspan font-size="7" dy="-4.4">-/-</tspan></text>
<text x="148.8" y="206.3" font-size="11.2" text-anchor="middle" font-weight="normal" fill="#000" >Time (min)</text>
<text x="152.4" y="417.9" font-size="11.1" text-anchor="middle" font-weight="normal" fill="#000" >Time (min)</text>
<text transform="translate(9.7,95.9) rotate(-90)" font-size="11.4" text-anchor="middle">Blood flow (% of baseline)</text>
<text transform="translate(11.2,306.5) rotate(-90)" font-size="11.4" text-anchor="middle">Blood flow (% baseline)</text>
<text transform="translate(295.5,93.6) rotate(-90)" font-size="10.7" text-anchor="middle" fill="#000">Time to occlusion (min)</text>
<text transform="translate(293.6,301.35) rotate(-90)" font-size="10.6" text-anchor="middle" fill="#000">Time to occlusion (min)</text>
</g>
</svg>
</body></html>
